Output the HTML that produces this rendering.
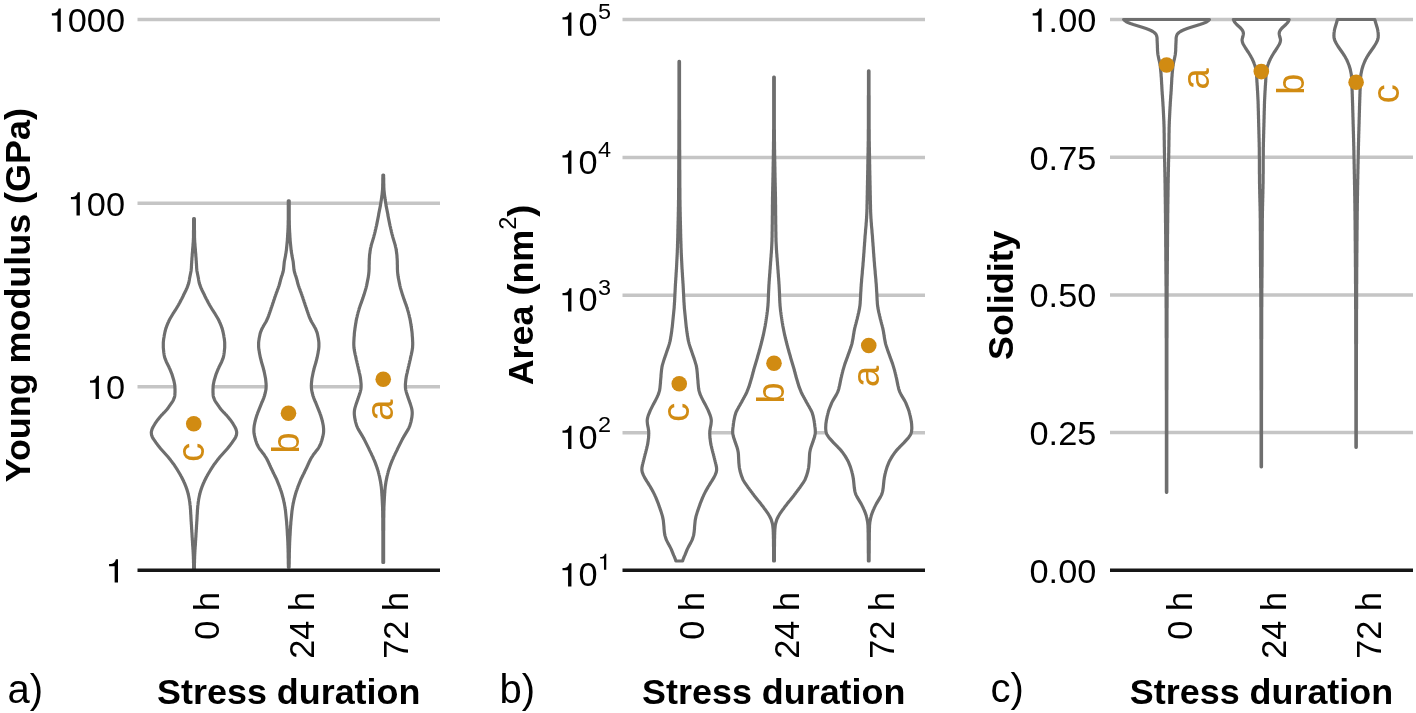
<!DOCTYPE html>
<html lang="en">
<head>
<meta charset="utf-8">
<title>Violin plots: Young modulus, Area, Solidity vs stress duration</title>
<style>
html,body{margin:0;padding:0;background:#fff;}
body{width:1416px;height:713px;overflow:hidden;}
svg{display:block;transform:translateZ(0);will-change:transform;}
svg text{font-family:"Liberation Sans", sans-serif;}
</style>
</head>
<body>
<svg width="1416" height="713" viewBox="0 0 1416 713" role="img" aria-label="Violin plots of Young modulus, area and solidity versus stress duration">
<rect width="1416" height="713" fill="#ffffff"/>
<line x1="137.5" y1="19.5" x2="440" y2="19.5" stroke="#c5c5c5" stroke-width="3.3"/>
<line x1="137.5" y1="203.25" x2="440" y2="203.25" stroke="#c5c5c5" stroke-width="3.3"/>
<line x1="137.5" y1="386.75" x2="440" y2="386.75" stroke="#c5c5c5" stroke-width="3.3"/>
<path d="M194.4,218.7 L194.4,219.7 L194.4,220.7 L194.4,221.7 L194.4,222.7 L194.4,223.7 L194.4,224.7 L194.4,225.7 L194.4,226.7 L194.4,227.7 L194.4,228.7 L194.4,229.7 L194.5,230.7 L194.5,231.7 L194.5,232.7 L194.5,233.7 L194.5,234.7 L194.5,235.7 L194.5,236.7 L194.5,237.7 L194.6,238.7 L194.6,239.7 L194.7,240.7 L194.7,241.7 L194.8,242.7 L194.9,243.7 L195.0,244.7 L195.0,245.7 L195.1,246.7 L195.2,247.7 L195.3,248.7 L195.4,249.7 L195.4,250.7 L195.5,251.7 L195.6,252.7 L195.7,253.7 L195.8,254.7 L195.8,255.7 L195.9,256.7 L196.0,257.7 L196.1,258.7 L196.1,259.7 L196.2,260.7 L196.3,261.7 L196.3,262.7 L196.4,263.7 L196.5,264.7 L196.5,265.7 L196.6,266.7 L196.6,267.7 L196.7,268.7 L196.8,269.7 L196.9,270.7 L197.1,271.7 L197.3,272.7 L197.5,273.7 L197.7,274.7 L197.9,275.7 L198.1,276.7 L198.3,277.7 L198.5,278.7 L198.6,279.7 L198.8,280.7 L199.0,281.7 L199.2,282.7 L199.5,283.7 L199.8,284.7 L200.2,285.7 L200.5,286.7 L200.9,287.7 L201.4,288.7 L201.8,289.7 L202.3,290.7 L202.8,291.7 L203.3,292.7 L203.8,293.7 L204.3,294.7 L204.7,295.7 L205.2,296.7 L205.7,297.7 L206.2,298.7 L206.8,299.7 L207.3,300.7 L207.8,301.7 L208.3,302.7 L208.9,303.7 L209.4,304.7 L210.0,305.7 L210.6,306.7 L211.2,307.7 L211.8,308.7 L212.4,309.7 L213.0,310.7 L213.7,311.7 L214.3,312.7 L215.0,313.7 L215.6,314.7 L216.2,315.7 L216.8,316.7 L217.4,317.7 L218.0,318.7 L218.5,319.7 L219.0,320.7 L219.4,321.7 L219.9,322.7 L220.3,323.7 L220.7,324.7 L221.1,325.7 L221.5,326.7 L221.8,327.7 L222.2,328.7 L222.5,329.7 L222.7,330.7 L223.0,331.7 L223.2,332.7 L223.4,333.7 L223.6,334.7 L223.8,335.7 L223.9,336.7 L224.1,337.7 L224.3,338.7 L224.4,339.7 L224.5,340.7 L224.6,341.7 L224.7,342.7 L224.7,343.7 L224.7,344.7 L224.7,345.7 L224.7,346.7 L224.7,347.7 L224.6,348.7 L224.5,349.7 L224.4,350.7 L224.3,351.7 L224.2,352.7 L224.0,353.7 L223.9,354.7 L223.7,355.7 L223.5,356.7 L223.2,357.7 L222.9,358.7 L222.5,359.7 L222.1,360.7 L221.7,361.7 L221.2,362.7 L220.7,363.7 L220.2,364.7 L219.7,365.7 L219.2,366.7 L218.8,367.7 L218.3,368.7 L217.9,369.7 L217.5,370.7 L217.1,371.7 L216.7,372.7 L216.3,373.7 L215.9,374.7 L215.6,375.7 L215.3,376.7 L215.0,377.7 L214.7,378.7 L214.4,379.7 L214.1,380.7 L213.9,381.7 L213.7,382.7 L213.5,383.7 L213.3,384.7 L213.2,385.7 L213.1,386.7 L213.1,387.7 L213.0,388.7 L213.0,389.7 L213.0,390.7 L213.0,391.7 L213.0,392.7 L213.1,393.7 L213.1,394.7 L213.2,395.7 L213.4,396.7 L213.7,397.7 L214.1,398.7 L214.5,399.7 L215.0,400.7 L215.6,401.7 L216.2,402.7 L216.9,403.7 L217.6,404.7 L218.3,405.7 L219.0,406.7 L219.7,407.7 L220.5,408.7 L221.3,409.7 L222.2,410.7 L223.1,411.7 L224.0,412.7 L225.0,413.7 L225.9,414.7 L226.9,415.7 L227.8,416.7 L228.6,417.7 L229.4,418.7 L230.2,419.7 L230.9,420.7 L231.6,421.7 L232.3,422.7 L233.0,423.7 L233.6,424.7 L234.2,425.7 L234.8,426.7 L235.3,427.7 L235.8,428.7 L236.1,429.7 L236.4,430.7 L236.6,431.7 L236.7,432.7 L236.6,433.7 L236.5,434.7 L236.2,435.7 L235.8,436.7 L235.3,437.7 L234.8,438.7 L234.1,439.7 L233.4,440.7 L232.7,441.7 L232.0,442.7 L231.2,443.7 L230.5,444.7 L229.7,445.7 L228.9,446.7 L228.1,447.7 L227.3,448.7 L226.4,449.7 L225.5,450.7 L224.6,451.7 L223.7,452.7 L222.8,453.7 L221.9,454.7 L221.0,455.7 L220.1,456.7 L219.3,457.7 L218.5,458.7 L217.7,459.7 L217.0,460.7 L216.2,461.7 L215.5,462.7 L214.7,463.7 L214.0,464.7 L213.3,465.7 L212.7,466.7 L212.0,467.7 L211.4,468.7 L210.7,469.7 L210.1,470.7 L209.5,471.7 L208.9,472.7 L208.3,473.7 L207.7,474.7 L207.2,475.7 L206.6,476.7 L206.1,477.7 L205.6,478.7 L205.1,479.7 L204.6,480.7 L204.2,481.7 L203.7,482.7 L203.3,483.7 L202.9,484.7 L202.5,485.7 L202.1,486.7 L201.7,487.7 L201.4,488.7 L201.0,489.7 L200.7,490.7 L200.4,491.7 L200.1,492.7 L199.9,493.7 L199.6,494.7 L199.4,495.7 L199.2,496.7 L199.0,497.7 L198.8,498.7 L198.6,499.7 L198.5,500.7 L198.3,501.7 L198.2,502.7 L198.1,503.7 L198.0,504.7 L197.8,505.7 L197.7,506.7 L197.7,507.7 L197.6,508.7 L197.5,509.7 L197.4,510.7 L197.4,511.7 L197.3,512.7 L197.3,513.7 L197.2,514.7 L197.1,515.7 L197.1,516.7 L197.0,517.7 L197.0,518.7 L196.9,519.7 L196.9,520.7 L196.8,521.7 L196.7,522.7 L196.7,523.7 L196.6,524.7 L196.5,525.7 L196.5,526.7 L196.4,527.7 L196.4,528.7 L196.3,529.7 L196.2,530.7 L196.2,531.7 L196.1,532.7 L196.0,533.7 L196.0,534.7 L195.9,535.7 L195.9,536.7 L195.8,537.7 L195.7,538.7 L195.7,539.7 L195.6,540.7 L195.5,541.7 L195.5,542.7 L195.4,543.7 L195.4,544.7 L195.3,545.7 L195.2,546.7 L195.1,547.7 L195.1,548.7 L195.0,549.7 L194.9,550.7 L194.9,551.7 L194.8,552.7 L194.8,553.7 L194.7,554.7 L194.7,555.7 L194.6,556.7 L194.6,557.7 L194.6,558.7 L194.5,559.7 L194.5,560.7 L194.5,561.7 L194.5,562.7 L194.4,563.7 L194.4,564.7 L194.4,565.7 L194.4,566.7 L194.4,567.7 L194.4,568.7 L194.4,568.8 L193.6,568.8 L193.6,568.7 L193.6,567.7 L193.6,566.7 L193.6,565.7 L193.6,564.7 L193.6,563.7 L193.5,562.7 L193.5,561.7 L193.5,560.7 L193.5,559.7 L193.4,558.7 L193.4,557.7 L193.4,556.7 L193.3,555.7 L193.3,554.7 L193.2,553.7 L193.2,552.7 L193.1,551.7 L193.1,550.7 L193.0,549.7 L192.9,548.7 L192.9,547.7 L192.8,546.7 L192.7,545.7 L192.6,544.7 L192.6,543.7 L192.5,542.7 L192.5,541.7 L192.4,540.7 L192.3,539.7 L192.3,538.7 L192.2,537.7 L192.1,536.7 L192.1,535.7 L192.0,534.7 L192.0,533.7 L191.9,532.7 L191.8,531.7 L191.8,530.7 L191.7,529.7 L191.6,528.7 L191.6,527.7 L191.5,526.7 L191.5,525.7 L191.4,524.7 L191.3,523.7 L191.3,522.7 L191.2,521.7 L191.1,520.7 L191.1,519.7 L191.0,518.7 L191.0,517.7 L190.9,516.7 L190.9,515.7 L190.8,514.7 L190.7,513.7 L190.7,512.7 L190.6,511.7 L190.6,510.7 L190.5,509.7 L190.4,508.7 L190.3,507.7 L190.3,506.7 L190.2,505.7 L190.0,504.7 L189.9,503.7 L189.8,502.7 L189.7,501.7 L189.5,500.7 L189.4,499.7 L189.2,498.7 L189.0,497.7 L188.8,496.7 L188.6,495.7 L188.4,494.7 L188.1,493.7 L187.9,492.7 L187.6,491.7 L187.3,490.7 L187.0,489.7 L186.6,488.7 L186.3,487.7 L185.9,486.7 L185.5,485.7 L185.1,484.7 L184.7,483.7 L184.3,482.7 L183.8,481.7 L183.4,480.7 L182.9,479.7 L182.4,478.7 L181.9,477.7 L181.4,476.7 L180.8,475.7 L180.3,474.7 L179.7,473.7 L179.1,472.7 L178.5,471.7 L177.9,470.7 L177.3,469.7 L176.6,468.7 L176.0,467.7 L175.3,466.7 L174.7,465.7 L174.0,464.7 L173.3,463.7 L172.5,462.7 L171.8,461.7 L171.0,460.7 L170.3,459.7 L169.5,458.7 L168.7,457.7 L167.9,456.7 L167.0,455.7 L166.1,454.7 L165.2,453.7 L164.3,452.7 L163.4,451.7 L162.5,450.7 L161.6,449.7 L160.7,448.7 L159.9,447.7 L159.1,446.7 L158.3,445.7 L157.5,444.7 L156.8,443.7 L156.0,442.7 L155.3,441.7 L154.6,440.7 L153.9,439.7 L153.2,438.7 L152.7,437.7 L152.2,436.7 L151.8,435.7 L151.5,434.7 L151.4,433.7 L151.3,432.7 L151.4,431.7 L151.6,430.7 L151.9,429.7 L152.2,428.7 L152.7,427.7 L153.2,426.7 L153.8,425.7 L154.4,424.7 L155.0,423.7 L155.7,422.7 L156.4,421.7 L157.1,420.7 L157.8,419.7 L158.6,418.7 L159.4,417.7 L160.2,416.7 L161.1,415.7 L162.1,414.7 L163.0,413.7 L164.0,412.7 L164.9,411.7 L165.8,410.7 L166.7,409.7 L167.5,408.7 L168.3,407.7 L169.0,406.7 L169.7,405.7 L170.4,404.7 L171.1,403.7 L171.8,402.7 L172.4,401.7 L173.0,400.7 L173.5,399.7 L173.9,398.7 L174.3,397.7 L174.6,396.7 L174.8,395.7 L174.9,394.7 L174.9,393.7 L175.0,392.7 L175.0,391.7 L175.0,390.7 L175.0,389.7 L175.0,388.7 L174.9,387.7 L174.9,386.7 L174.8,385.7 L174.7,384.7 L174.5,383.7 L174.3,382.7 L174.1,381.7 L173.9,380.7 L173.6,379.7 L173.3,378.7 L173.0,377.7 L172.7,376.7 L172.4,375.7 L172.1,374.7 L171.7,373.7 L171.3,372.7 L170.9,371.7 L170.5,370.7 L170.1,369.7 L169.7,368.7 L169.2,367.7 L168.8,366.7 L168.3,365.7 L167.8,364.7 L167.3,363.7 L166.8,362.7 L166.3,361.7 L165.9,360.7 L165.5,359.7 L165.1,358.7 L164.8,357.7 L164.5,356.7 L164.3,355.7 L164.1,354.7 L164.0,353.7 L163.8,352.7 L163.7,351.7 L163.6,350.7 L163.5,349.7 L163.4,348.7 L163.3,347.7 L163.3,346.7 L163.3,345.7 L163.3,344.7 L163.3,343.7 L163.3,342.7 L163.4,341.7 L163.5,340.7 L163.6,339.7 L163.7,338.7 L163.9,337.7 L164.1,336.7 L164.2,335.7 L164.4,334.7 L164.6,333.7 L164.8,332.7 L165.0,331.7 L165.3,330.7 L165.5,329.7 L165.8,328.7 L166.2,327.7 L166.5,326.7 L166.9,325.7 L167.3,324.7 L167.7,323.7 L168.1,322.7 L168.6,321.7 L169.0,320.7 L169.5,319.7 L170.0,318.7 L170.6,317.7 L171.2,316.7 L171.8,315.7 L172.4,314.7 L173.0,313.7 L173.7,312.7 L174.3,311.7 L175.0,310.7 L175.6,309.7 L176.2,308.7 L176.8,307.7 L177.4,306.7 L178.0,305.7 L178.6,304.7 L179.1,303.7 L179.7,302.7 L180.2,301.7 L180.7,300.7 L181.2,299.7 L181.8,298.7 L182.3,297.7 L182.8,296.7 L183.3,295.7 L183.7,294.7 L184.2,293.7 L184.7,292.7 L185.2,291.7 L185.7,290.7 L186.2,289.7 L186.6,288.7 L187.1,287.7 L187.5,286.7 L187.8,285.7 L188.2,284.7 L188.5,283.7 L188.8,282.7 L189.0,281.7 L189.2,280.7 L189.4,279.7 L189.5,278.7 L189.7,277.7 L189.9,276.7 L190.1,275.7 L190.3,274.7 L190.5,273.7 L190.7,272.7 L190.9,271.7 L191.1,270.7 L191.2,269.7 L191.3,268.7 L191.4,267.7 L191.4,266.7 L191.5,265.7 L191.5,264.7 L191.6,263.7 L191.7,262.7 L191.7,261.7 L191.8,260.7 L191.9,259.7 L191.9,258.7 L192.0,257.7 L192.1,256.7 L192.2,255.7 L192.2,254.7 L192.3,253.7 L192.4,252.7 L192.5,251.7 L192.6,250.7 L192.6,249.7 L192.7,248.7 L192.8,247.7 L192.9,246.7 L193.0,245.7 L193.0,244.7 L193.1,243.7 L193.2,242.7 L193.3,241.7 L193.3,240.7 L193.4,239.7 L193.4,238.7 L193.5,237.7 L193.5,236.7 L193.5,235.7 L193.5,234.7 L193.5,233.7 L193.5,232.7 L193.5,231.7 L193.5,230.7 L193.6,229.7 L193.6,228.7 L193.6,227.7 L193.6,226.7 L193.6,225.7 L193.6,224.7 L193.6,223.7 L193.6,222.7 L193.6,221.7 L193.6,220.7 L193.6,219.7 L193.6,218.7 Z" fill="#ffffff" stroke="#6e6e6e" stroke-width="3.2" stroke-linejoin="round"/>
<path d="M289.2,200.8 L289.2,201.8 L289.2,202.8 L289.2,203.8 L289.2,204.8 L289.2,205.8 L289.2,206.8 L289.2,207.8 L289.2,208.8 L289.2,209.8 L289.2,210.8 L289.2,211.8 L289.2,212.8 L289.2,213.8 L289.2,214.8 L289.2,215.8 L289.2,216.8 L289.2,217.8 L289.2,218.8 L289.2,219.8 L289.3,220.8 L289.3,221.8 L289.3,222.8 L289.3,223.8 L289.3,224.8 L289.4,225.8 L289.4,226.8 L289.4,227.8 L289.5,228.8 L289.5,229.8 L289.6,230.8 L289.6,231.8 L289.7,232.8 L289.8,233.8 L289.8,234.8 L289.9,235.8 L289.9,236.8 L290.0,237.8 L290.1,238.8 L290.1,239.8 L290.2,240.8 L290.3,241.8 L290.4,242.8 L290.5,243.8 L290.6,244.8 L290.7,245.8 L290.8,246.8 L290.9,247.8 L291.0,248.8 L291.1,249.8 L291.2,250.8 L291.4,251.8 L291.5,252.8 L291.7,253.8 L291.9,254.8 L292.0,255.8 L292.2,256.8 L292.4,257.8 L292.6,258.8 L292.8,259.8 L293.0,260.8 L293.2,261.8 L293.3,262.8 L293.4,263.8 L293.5,264.8 L293.6,265.8 L293.7,266.8 L293.8,267.8 L293.9,268.8 L294.0,269.8 L294.2,270.8 L294.4,271.8 L294.7,272.8 L295.0,273.8 L295.3,274.8 L295.7,275.8 L296.0,276.8 L296.3,277.8 L296.6,278.8 L296.9,279.8 L297.1,280.8 L297.4,281.8 L297.6,282.8 L297.9,283.8 L298.2,284.8 L298.5,285.8 L298.9,286.8 L299.2,287.8 L299.6,288.8 L300.0,289.8 L300.3,290.8 L300.7,291.8 L301.1,292.8 L301.4,293.8 L301.8,294.8 L302.1,295.8 L302.5,296.8 L302.8,297.8 L303.1,298.8 L303.5,299.8 L303.8,300.8 L304.1,301.8 L304.5,302.8 L304.8,303.8 L305.1,304.8 L305.5,305.8 L305.8,306.8 L306.2,307.8 L306.5,308.8 L306.8,309.8 L307.2,310.8 L307.5,311.8 L307.9,312.8 L308.2,313.8 L308.6,314.8 L308.9,315.8 L309.3,316.8 L309.7,317.8 L310.1,318.8 L310.6,319.8 L311.0,320.8 L311.5,321.8 L312.1,322.8 L312.7,323.8 L313.3,324.8 L313.9,325.8 L314.4,326.8 L315.0,327.8 L315.5,328.8 L316.0,329.8 L316.4,330.8 L316.8,331.8 L317.1,332.8 L317.4,333.8 L317.6,334.8 L317.8,335.8 L318.0,336.8 L318.2,337.8 L318.4,338.8 L318.5,339.8 L318.7,340.8 L318.8,341.8 L318.9,342.8 L318.9,343.8 L318.9,344.8 L318.9,345.8 L318.9,346.8 L318.8,347.8 L318.7,348.8 L318.6,349.8 L318.4,350.8 L318.2,351.8 L318.1,352.8 L317.9,353.8 L317.7,354.8 L317.5,355.8 L317.3,356.8 L317.1,357.8 L316.8,358.8 L316.6,359.8 L316.3,360.8 L316.1,361.8 L315.8,362.8 L315.5,363.8 L315.2,364.8 L314.9,365.8 L314.6,366.8 L314.3,367.8 L314.1,368.8 L313.8,369.8 L313.6,370.8 L313.3,371.8 L313.1,372.8 L312.9,373.8 L312.7,374.8 L312.5,375.8 L312.3,376.8 L312.1,377.8 L311.9,378.8 L311.8,379.8 L311.7,380.8 L311.6,381.8 L311.5,382.8 L311.4,383.8 L311.4,384.8 L311.3,385.8 L311.4,386.8 L311.4,387.8 L311.5,388.8 L311.6,389.8 L311.8,390.8 L312.0,391.8 L312.2,392.8 L312.5,393.8 L312.7,394.8 L313.0,395.8 L313.4,396.8 L313.7,397.8 L314.1,398.8 L314.5,399.8 L314.9,400.8 L315.3,401.8 L315.8,402.8 L316.2,403.8 L316.6,404.8 L317.0,405.8 L317.4,406.8 L317.8,407.8 L318.2,408.8 L318.6,409.8 L319.0,410.8 L319.4,411.8 L319.8,412.8 L320.1,413.8 L320.5,414.8 L320.8,415.8 L321.1,416.8 L321.4,417.8 L321.7,418.8 L322.0,419.8 L322.2,420.8 L322.5,421.8 L322.7,422.8 L322.9,423.8 L323.1,424.8 L323.3,425.8 L323.4,426.8 L323.5,427.8 L323.6,428.8 L323.6,429.8 L323.6,430.8 L323.6,431.8 L323.5,432.8 L323.4,433.8 L323.2,434.8 L323.0,435.8 L322.8,436.8 L322.5,437.8 L322.3,438.8 L322.0,439.8 L321.7,440.8 L321.3,441.8 L321.0,442.8 L320.6,443.8 L320.2,444.8 L319.7,445.8 L319.2,446.8 L318.6,447.8 L317.9,448.8 L317.2,449.8 L316.4,450.8 L315.6,451.8 L314.9,452.8 L314.1,453.8 L313.3,454.8 L312.7,455.8 L312.0,456.8 L311.4,457.8 L310.8,458.8 L310.3,459.8 L309.8,460.8 L309.3,461.8 L308.8,462.8 L308.4,463.8 L307.9,464.8 L307.5,465.8 L307.0,466.8 L306.6,467.8 L306.1,468.8 L305.6,469.8 L305.1,470.8 L304.6,471.8 L304.2,472.8 L303.7,473.8 L303.1,474.8 L302.7,475.8 L302.2,476.8 L301.7,477.8 L301.2,478.8 L300.7,479.8 L300.3,480.8 L299.9,481.8 L299.5,482.8 L299.1,483.8 L298.7,484.8 L298.3,485.8 L297.9,486.8 L297.6,487.8 L297.2,488.8 L296.9,489.8 L296.5,490.8 L296.2,491.8 L295.9,492.8 L295.6,493.8 L295.3,494.8 L295.1,495.8 L294.8,496.8 L294.5,497.8 L294.3,498.8 L294.0,499.8 L293.8,500.8 L293.6,501.8 L293.4,502.8 L293.1,503.8 L293.0,504.8 L292.8,505.8 L292.6,506.8 L292.5,507.8 L292.3,508.8 L292.2,509.8 L292.0,510.8 L291.9,511.8 L291.8,512.8 L291.7,513.8 L291.6,514.8 L291.5,515.8 L291.4,516.8 L291.3,517.8 L291.2,518.8 L291.1,519.8 L291.0,520.8 L290.9,521.8 L290.8,522.8 L290.8,523.8 L290.7,524.8 L290.6,525.8 L290.5,526.8 L290.5,527.8 L290.4,528.8 L290.3,529.8 L290.3,530.8 L290.2,531.8 L290.2,532.8 L290.1,533.8 L290.1,534.8 L290.0,535.8 L289.9,536.8 L289.9,537.8 L289.8,538.8 L289.8,539.8 L289.7,540.8 L289.7,541.8 L289.6,542.8 L289.6,543.8 L289.6,544.8 L289.5,545.8 L289.5,546.8 L289.5,547.8 L289.4,548.8 L289.4,549.8 L289.4,550.8 L289.4,551.8 L289.3,552.8 L289.3,553.8 L289.3,554.8 L289.3,555.8 L289.3,556.8 L289.3,557.8 L289.2,558.8 L289.2,559.8 L289.2,560.8 L289.2,561.8 L289.2,562.8 L289.2,563.8 L289.1,564.8 L289.1,565.8 L289.1,566.8 L289.1,567.2 L288.4,567.2 L288.4,566.8 L288.4,565.8 L288.4,564.8 L288.3,563.8 L288.3,562.8 L288.3,561.8 L288.3,560.8 L288.3,559.8 L288.3,558.8 L288.2,557.8 L288.2,556.8 L288.2,555.8 L288.2,554.8 L288.2,553.8 L288.2,552.8 L288.1,551.8 L288.1,550.8 L288.1,549.8 L288.1,548.8 L288.0,547.8 L288.0,546.8 L288.0,545.8 L287.9,544.8 L287.9,543.8 L287.9,542.8 L287.8,541.8 L287.8,540.8 L287.7,539.8 L287.7,538.8 L287.6,537.8 L287.6,536.8 L287.5,535.8 L287.4,534.8 L287.4,533.8 L287.3,532.8 L287.3,531.8 L287.2,530.8 L287.2,529.8 L287.1,528.8 L287.0,527.8 L287.0,526.8 L286.9,525.8 L286.8,524.8 L286.7,523.8 L286.7,522.8 L286.6,521.8 L286.5,520.8 L286.4,519.8 L286.3,518.8 L286.2,517.8 L286.1,516.8 L286.0,515.8 L285.9,514.8 L285.8,513.8 L285.7,512.8 L285.6,511.8 L285.5,510.8 L285.3,509.8 L285.2,508.8 L285.0,507.8 L284.9,506.8 L284.7,505.8 L284.5,504.8 L284.4,503.8 L284.1,502.8 L283.9,501.8 L283.7,500.8 L283.5,499.8 L283.2,498.8 L283.0,497.8 L282.7,496.8 L282.4,495.8 L282.2,494.8 L281.9,493.8 L281.6,492.8 L281.3,491.8 L281.0,490.8 L280.6,489.8 L280.3,488.8 L279.9,487.8 L279.6,486.8 L279.2,485.8 L278.8,484.8 L278.4,483.8 L278.0,482.8 L277.6,481.8 L277.2,480.8 L276.8,479.8 L276.3,478.8 L275.8,477.8 L275.3,476.8 L274.8,475.8 L274.4,474.8 L273.8,473.8 L273.3,472.8 L272.9,471.8 L272.4,470.8 L271.9,469.8 L271.4,468.8 L270.9,467.8 L270.5,466.8 L270.0,465.8 L269.6,464.8 L269.1,463.8 L268.7,462.8 L268.2,461.8 L267.7,460.8 L267.2,459.8 L266.7,458.8 L266.1,457.8 L265.5,456.8 L264.8,455.8 L264.2,454.8 L263.4,453.8 L262.6,452.8 L261.9,451.8 L261.1,450.8 L260.3,449.8 L259.6,448.8 L258.9,447.8 L258.3,446.8 L257.8,445.8 L257.3,444.8 L256.9,443.8 L256.5,442.8 L256.2,441.8 L255.8,440.8 L255.5,439.8 L255.2,438.8 L255.0,437.8 L254.7,436.8 L254.5,435.8 L254.3,434.8 L254.1,433.8 L254.0,432.8 L253.9,431.8 L253.9,430.8 L253.9,429.8 L253.9,428.8 L254.0,427.8 L254.1,426.8 L254.2,425.8 L254.4,424.8 L254.6,423.8 L254.8,422.8 L255.0,421.8 L255.3,420.8 L255.5,419.8 L255.8,418.8 L256.1,417.8 L256.4,416.8 L256.7,415.8 L257.0,414.8 L257.4,413.8 L257.7,412.8 L258.1,411.8 L258.5,410.8 L258.9,409.8 L259.3,408.8 L259.7,407.8 L260.1,406.8 L260.5,405.8 L260.9,404.8 L261.3,403.8 L261.7,402.8 L262.2,401.8 L262.6,400.8 L263.0,399.8 L263.4,398.8 L263.8,397.8 L264.1,396.8 L264.5,395.8 L264.8,394.8 L265.0,393.8 L265.3,392.8 L265.5,391.8 L265.7,390.8 L265.9,389.8 L266.0,388.8 L266.1,387.8 L266.1,386.8 L266.2,385.8 L266.1,384.8 L266.1,383.8 L266.0,382.8 L265.9,381.8 L265.8,380.8 L265.7,379.8 L265.6,378.8 L265.4,377.8 L265.2,376.8 L265.0,375.8 L264.8,374.8 L264.6,373.8 L264.4,372.8 L264.2,371.8 L263.9,370.8 L263.7,369.8 L263.4,368.8 L263.2,367.8 L262.9,366.8 L262.6,365.8 L262.3,364.8 L262.0,363.8 L261.7,362.8 L261.4,361.8 L261.2,360.8 L260.9,359.8 L260.7,358.8 L260.4,357.8 L260.2,356.8 L260.0,355.8 L259.8,354.8 L259.6,353.8 L259.4,352.8 L259.3,351.8 L259.1,350.8 L258.9,349.8 L258.8,348.8 L258.7,347.8 L258.6,346.8 L258.6,345.8 L258.6,344.8 L258.6,343.8 L258.6,342.8 L258.7,341.8 L258.8,340.8 L259.0,339.8 L259.1,338.8 L259.3,337.8 L259.5,336.8 L259.7,335.8 L259.9,334.8 L260.1,333.8 L260.4,332.8 L260.7,331.8 L261.1,330.8 L261.5,329.8 L262.0,328.8 L262.5,327.8 L263.1,326.8 L263.6,325.8 L264.2,324.8 L264.8,323.8 L265.4,322.8 L266.0,321.8 L266.5,320.8 L266.9,319.8 L267.4,318.8 L267.8,317.8 L268.2,316.8 L268.6,315.8 L268.9,314.8 L269.3,313.8 L269.6,312.8 L270.0,311.8 L270.3,310.8 L270.7,309.8 L271.0,308.8 L271.3,307.8 L271.7,306.8 L272.0,305.8 L272.4,304.8 L272.7,303.8 L273.0,302.8 L273.4,301.8 L273.7,300.8 L274.0,299.8 L274.4,298.8 L274.7,297.8 L275.0,296.8 L275.4,295.8 L275.7,294.8 L276.1,293.8 L276.4,292.8 L276.8,291.8 L277.2,290.8 L277.5,289.8 L277.9,288.8 L278.3,287.8 L278.6,286.8 L279.0,285.8 L279.3,284.8 L279.6,283.8 L279.9,282.8 L280.1,281.8 L280.4,280.8 L280.6,279.8 L280.9,278.8 L281.2,277.8 L281.5,276.8 L281.8,275.8 L282.2,274.8 L282.5,273.8 L282.8,272.8 L283.1,271.8 L283.3,270.8 L283.5,269.8 L283.6,268.8 L283.7,267.8 L283.8,266.8 L283.9,265.8 L284.0,264.8 L284.1,263.8 L284.2,262.8 L284.3,261.8 L284.5,260.8 L284.7,259.8 L284.9,258.8 L285.1,257.8 L285.3,256.8 L285.5,255.8 L285.6,254.8 L285.8,253.8 L286.0,252.8 L286.1,251.8 L286.3,250.8 L286.4,249.8 L286.5,248.8 L286.6,247.8 L286.7,246.8 L286.8,245.8 L286.9,244.8 L287.0,243.8 L287.1,242.8 L287.2,241.8 L287.3,240.8 L287.4,239.8 L287.4,238.8 L287.5,237.8 L287.6,236.8 L287.6,235.8 L287.7,234.8 L287.7,233.8 L287.8,232.8 L287.9,231.8 L287.9,230.8 L288.0,229.8 L288.0,228.8 L288.1,227.8 L288.1,226.8 L288.1,225.8 L288.2,224.8 L288.2,223.8 L288.2,222.8 L288.2,221.8 L288.2,220.8 L288.3,219.8 L288.3,218.8 L288.3,217.8 L288.3,216.8 L288.3,215.8 L288.3,214.8 L288.3,213.8 L288.3,212.8 L288.3,211.8 L288.3,210.8 L288.3,209.8 L288.3,208.8 L288.3,207.8 L288.3,206.8 L288.3,205.8 L288.3,204.8 L288.3,203.8 L288.3,202.8 L288.3,201.8 L288.3,200.8 Z" fill="#ffffff" stroke="#6e6e6e" stroke-width="3.2" stroke-linejoin="round"/>
<path d="M383.6,175.1 L383.6,176.1 L383.6,177.1 L383.7,178.1 L383.7,179.1 L383.7,180.1 L383.7,181.1 L383.7,182.1 L383.7,183.1 L383.8,184.1 L383.8,185.1 L383.8,186.1 L383.8,187.1 L383.9,188.1 L383.9,189.1 L384.0,190.1 L384.1,191.1 L384.2,192.1 L384.3,193.1 L384.4,194.1 L384.5,195.1 L384.7,196.1 L384.8,197.1 L384.9,198.1 L385.1,199.1 L385.2,200.1 L385.4,201.1 L385.5,202.1 L385.7,203.1 L385.9,204.1 L386.0,205.1 L386.2,206.1 L386.4,207.1 L386.6,208.1 L386.8,209.1 L387.0,210.1 L387.2,211.1 L387.4,212.1 L387.6,213.1 L387.8,214.1 L387.9,215.1 L388.1,216.1 L388.3,217.1 L388.5,218.1 L388.7,219.1 L388.9,220.1 L389.1,221.1 L389.3,222.1 L389.5,223.1 L389.7,224.1 L389.9,225.1 L390.1,226.1 L390.4,227.1 L390.6,228.1 L390.8,229.1 L391.1,230.1 L391.3,231.1 L391.5,232.1 L391.8,233.1 L392.0,234.1 L392.3,235.1 L392.6,236.1 L392.8,237.1 L393.1,238.1 L393.4,239.1 L393.7,240.1 L394.0,241.1 L394.3,242.1 L394.6,243.1 L394.9,244.1 L395.2,245.1 L395.4,246.1 L395.6,247.1 L395.9,248.1 L396.1,249.1 L396.2,250.1 L396.4,251.1 L396.5,252.1 L396.6,253.1 L396.8,254.1 L396.9,255.1 L397.0,256.1 L397.0,257.1 L397.1,258.1 L397.2,259.1 L397.2,260.1 L397.3,261.1 L397.3,262.1 L397.3,263.1 L397.3,264.1 L397.4,265.1 L397.4,266.1 L397.4,267.1 L397.4,268.1 L397.4,269.1 L397.5,270.1 L397.5,271.1 L397.6,272.1 L397.7,273.1 L397.8,274.1 L397.9,275.1 L398.1,276.1 L398.2,277.1 L398.4,278.1 L398.6,279.1 L398.8,280.1 L399.0,281.1 L399.2,282.1 L399.4,283.1 L399.6,284.1 L399.8,285.1 L400.0,286.1 L400.3,287.1 L400.5,288.1 L400.8,289.1 L401.1,290.1 L401.4,291.1 L401.7,292.1 L402.0,293.1 L402.3,294.1 L402.6,295.1 L403.0,296.1 L403.3,297.1 L403.6,298.1 L404.0,299.1 L404.3,300.1 L404.7,301.1 L405.0,302.1 L405.4,303.1 L405.8,304.1 L406.1,305.1 L406.5,306.1 L406.8,307.1 L407.1,308.1 L407.5,309.1 L407.7,310.1 L408.0,311.1 L408.3,312.1 L408.6,313.1 L408.8,314.1 L409.1,315.1 L409.3,316.1 L409.5,317.1 L409.8,318.1 L410.0,319.1 L410.2,320.1 L410.4,321.1 L410.5,322.1 L410.7,323.1 L410.9,324.1 L411.0,325.1 L411.2,326.1 L411.3,327.1 L411.5,328.1 L411.6,329.1 L411.7,330.1 L411.9,331.1 L412.0,332.1 L412.1,333.1 L412.2,334.1 L412.2,335.1 L412.3,336.1 L412.4,337.1 L412.5,338.1 L412.5,339.1 L412.6,340.1 L412.6,341.1 L412.7,342.1 L412.7,343.1 L412.7,344.1 L412.7,345.1 L412.6,346.1 L412.6,347.1 L412.5,348.1 L412.3,349.1 L412.2,350.1 L412.0,351.1 L411.8,352.1 L411.6,353.1 L411.4,354.1 L411.2,355.1 L410.9,356.1 L410.7,357.1 L410.5,358.1 L410.3,359.1 L410.1,360.1 L409.8,361.1 L409.6,362.1 L409.4,363.1 L409.1,364.1 L408.9,365.1 L408.7,366.1 L408.4,367.1 L408.2,368.1 L408.0,369.1 L407.7,370.1 L407.5,371.1 L407.3,372.1 L407.1,373.1 L406.8,374.1 L406.6,375.1 L406.4,376.1 L406.2,377.1 L406.1,378.1 L405.9,379.1 L405.8,380.1 L405.7,381.1 L405.6,382.1 L405.5,383.1 L405.4,384.1 L405.4,385.1 L405.4,386.1 L405.4,387.1 L405.5,388.1 L405.6,389.1 L405.8,390.1 L406.1,391.1 L406.3,392.1 L406.6,393.1 L406.9,394.1 L407.3,395.1 L407.6,396.1 L407.9,397.1 L408.3,398.1 L408.6,399.1 L409.0,400.1 L409.3,401.1 L409.7,402.1 L410.0,403.1 L410.4,404.1 L410.7,405.1 L411.0,406.1 L411.3,407.1 L411.6,408.1 L411.8,409.1 L412.0,410.1 L412.1,411.1 L412.2,412.1 L412.2,413.1 L412.2,414.1 L412.1,415.1 L412.0,416.1 L411.9,417.1 L411.7,418.1 L411.5,419.1 L411.3,420.1 L411.1,421.1 L410.9,422.1 L410.6,423.1 L410.3,424.1 L410.0,425.1 L409.7,426.1 L409.2,427.1 L408.8,428.1 L408.3,429.1 L407.7,430.1 L407.1,431.1 L406.5,432.1 L405.9,433.1 L405.3,434.1 L404.7,435.1 L404.1,436.1 L403.5,437.1 L403.0,438.1 L402.4,439.1 L401.9,440.1 L401.4,441.1 L400.9,442.1 L400.4,443.1 L399.9,444.1 L399.4,445.1 L398.9,446.1 L398.4,447.1 L397.9,448.1 L397.4,449.1 L397.0,450.1 L396.5,451.1 L396.0,452.1 L395.5,453.1 L395.0,454.1 L394.6,455.1 L394.1,456.1 L393.6,457.1 L393.2,458.1 L392.8,459.1 L392.3,460.1 L391.9,461.1 L391.5,462.1 L391.1,463.1 L390.8,464.1 L390.4,465.1 L390.0,466.1 L389.7,467.1 L389.4,468.1 L389.0,469.1 L388.7,470.1 L388.4,471.1 L388.1,472.1 L387.9,473.1 L387.6,474.1 L387.4,475.1 L387.1,476.1 L386.9,477.1 L386.7,478.1 L386.5,479.1 L386.3,480.1 L386.1,481.1 L385.9,482.1 L385.8,483.1 L385.6,484.1 L385.5,485.1 L385.3,486.1 L385.2,487.1 L385.1,488.1 L385.0,489.1 L384.9,490.1 L384.8,491.1 L384.8,492.1 L384.7,493.1 L384.6,494.1 L384.6,495.1 L384.5,496.1 L384.4,497.1 L384.4,498.1 L384.3,499.1 L384.3,500.1 L384.2,501.1 L384.2,502.1 L384.1,503.1 L384.1,504.1 L384.0,505.1 L384.0,506.1 L383.9,507.1 L383.9,508.1 L383.9,509.1 L383.9,510.1 L383.8,511.1 L383.8,512.1 L383.8,513.1 L383.8,514.1 L383.8,515.1 L383.8,516.1 L383.8,517.1 L383.7,518.1 L383.7,519.1 L383.7,520.1 L383.7,521.1 L383.7,522.1 L383.7,523.1 L383.7,524.1 L383.7,525.1 L383.7,526.1 L383.7,527.1 L383.7,528.1 L383.7,529.1 L383.7,530.1 L383.6,531.1 L383.6,532.1 L383.6,533.1 L383.6,534.1 L383.6,535.1 L383.6,536.1 L383.6,537.1 L383.6,538.1 L383.6,539.1 L383.6,540.1 L383.6,541.1 L383.6,542.1 L383.6,543.1 L383.6,544.1 L383.6,545.1 L383.6,546.1 L383.6,547.1 L383.6,548.1 L383.6,549.1 L383.6,550.1 L383.6,551.1 L383.6,552.1 L383.6,553.1 L383.6,554.1 L383.6,555.1 L383.6,556.1 L383.6,557.1 L383.6,558.1 L383.6,559.1 L383.6,560.1 L383.6,561.1 L383.6,562.1 L383.6,562.4 L382.9,562.4 L382.9,562.1 L382.9,561.1 L382.9,560.1 L382.9,559.1 L382.9,558.1 L382.9,557.1 L382.9,556.1 L382.9,555.1 L382.9,554.1 L382.9,553.1 L382.9,552.1 L382.9,551.1 L382.9,550.1 L382.9,549.1 L382.9,548.1 L382.9,547.1 L382.9,546.1 L382.9,545.1 L382.9,544.1 L382.9,543.1 L382.9,542.1 L382.9,541.1 L382.9,540.1 L382.9,539.1 L382.9,538.1 L382.9,537.1 L382.9,536.1 L382.9,535.1 L382.9,534.1 L382.9,533.1 L382.9,532.1 L382.9,531.1 L382.8,530.1 L382.8,529.1 L382.8,528.1 L382.8,527.1 L382.8,526.1 L382.8,525.1 L382.8,524.1 L382.8,523.1 L382.8,522.1 L382.8,521.1 L382.8,520.1 L382.8,519.1 L382.8,518.1 L382.7,517.1 L382.7,516.1 L382.7,515.1 L382.7,514.1 L382.7,513.1 L382.7,512.1 L382.7,511.1 L382.6,510.1 L382.6,509.1 L382.6,508.1 L382.6,507.1 L382.5,506.1 L382.5,505.1 L382.4,504.1 L382.4,503.1 L382.3,502.1 L382.3,501.1 L382.2,500.1 L382.2,499.1 L382.1,498.1 L382.1,497.1 L382.0,496.1 L381.9,495.1 L381.9,494.1 L381.8,493.1 L381.7,492.1 L381.7,491.1 L381.6,490.1 L381.5,489.1 L381.4,488.1 L381.3,487.1 L381.2,486.1 L381.0,485.1 L380.9,484.1 L380.7,483.1 L380.6,482.1 L380.4,481.1 L380.2,480.1 L380.0,479.1 L379.8,478.1 L379.6,477.1 L379.4,476.1 L379.1,475.1 L378.9,474.1 L378.6,473.1 L378.4,472.1 L378.1,471.1 L377.8,470.1 L377.5,469.1 L377.1,468.1 L376.8,467.1 L376.5,466.1 L376.1,465.1 L375.7,464.1 L375.4,463.1 L375.0,462.1 L374.6,461.1 L374.2,460.1 L373.7,459.1 L373.3,458.1 L372.9,457.1 L372.4,456.1 L371.9,455.1 L371.5,454.1 L371.0,453.1 L370.5,452.1 L370.0,451.1 L369.5,450.1 L369.1,449.1 L368.6,448.1 L368.1,447.1 L367.6,446.1 L367.1,445.1 L366.6,444.1 L366.1,443.1 L365.6,442.1 L365.1,441.1 L364.6,440.1 L364.1,439.1 L363.5,438.1 L363.0,437.1 L362.4,436.1 L361.8,435.1 L361.2,434.1 L360.6,433.1 L360.0,432.1 L359.4,431.1 L358.8,430.1 L358.2,429.1 L357.7,428.1 L357.3,427.1 L356.8,426.1 L356.5,425.1 L356.2,424.1 L355.9,423.1 L355.6,422.1 L355.4,421.1 L355.2,420.1 L355.0,419.1 L354.8,418.1 L354.6,417.1 L354.5,416.1 L354.4,415.1 L354.3,414.1 L354.3,413.1 L354.3,412.1 L354.4,411.1 L354.5,410.1 L354.7,409.1 L354.9,408.1 L355.2,407.1 L355.5,406.1 L355.8,405.1 L356.1,404.1 L356.5,403.1 L356.8,402.1 L357.2,401.1 L357.5,400.1 L357.9,399.1 L358.2,398.1 L358.6,397.1 L358.9,396.1 L359.2,395.1 L359.6,394.1 L359.9,393.1 L360.2,392.1 L360.4,391.1 L360.7,390.1 L360.9,389.1 L361.0,388.1 L361.1,387.1 L361.1,386.1 L361.1,385.1 L361.1,384.1 L361.0,383.1 L360.9,382.1 L360.8,381.1 L360.7,380.1 L360.6,379.1 L360.4,378.1 L360.3,377.1 L360.1,376.1 L359.9,375.1 L359.7,374.1 L359.4,373.1 L359.2,372.1 L359.0,371.1 L358.8,370.1 L358.5,369.1 L358.3,368.1 L358.1,367.1 L357.8,366.1 L357.6,365.1 L357.4,364.1 L357.1,363.1 L356.9,362.1 L356.7,361.1 L356.4,360.1 L356.2,359.1 L356.0,358.1 L355.8,357.1 L355.6,356.1 L355.3,355.1 L355.1,354.1 L354.9,353.1 L354.7,352.1 L354.5,351.1 L354.3,350.1 L354.2,349.1 L354.0,348.1 L353.9,347.1 L353.9,346.1 L353.8,345.1 L353.8,344.1 L353.8,343.1 L353.8,342.1 L353.9,341.1 L353.9,340.1 L354.0,339.1 L354.0,338.1 L354.1,337.1 L354.2,336.1 L354.3,335.1 L354.3,334.1 L354.4,333.1 L354.5,332.1 L354.6,331.1 L354.8,330.1 L354.9,329.1 L355.0,328.1 L355.2,327.1 L355.3,326.1 L355.5,325.1 L355.6,324.1 L355.8,323.1 L356.0,322.1 L356.1,321.1 L356.3,320.1 L356.5,319.1 L356.7,318.1 L357.0,317.1 L357.2,316.1 L357.4,315.1 L357.7,314.1 L357.9,313.1 L358.2,312.1 L358.5,311.1 L358.8,310.1 L359.0,309.1 L359.4,308.1 L359.7,307.1 L360.0,306.1 L360.4,305.1 L360.7,304.1 L361.1,303.1 L361.5,302.1 L361.8,301.1 L362.2,300.1 L362.5,299.1 L362.9,298.1 L363.2,297.1 L363.5,296.1 L363.9,295.1 L364.2,294.1 L364.5,293.1 L364.8,292.1 L365.1,291.1 L365.4,290.1 L365.7,289.1 L366.0,288.1 L366.2,287.1 L366.5,286.1 L366.7,285.1 L366.9,284.1 L367.1,283.1 L367.3,282.1 L367.5,281.1 L367.7,280.1 L367.9,279.1 L368.1,278.1 L368.3,277.1 L368.4,276.1 L368.6,275.1 L368.7,274.1 L368.8,273.1 L368.9,272.1 L369.0,271.1 L369.0,270.1 L369.1,269.1 L369.1,268.1 L369.1,267.1 L369.1,266.1 L369.1,265.1 L369.2,264.1 L369.2,263.1 L369.2,262.1 L369.2,261.1 L369.3,260.1 L369.3,259.1 L369.4,258.1 L369.5,257.1 L369.5,256.1 L369.6,255.1 L369.7,254.1 L369.9,253.1 L370.0,252.1 L370.1,251.1 L370.3,250.1 L370.4,249.1 L370.6,248.1 L370.9,247.1 L371.1,246.1 L371.3,245.1 L371.6,244.1 L371.9,243.1 L372.2,242.1 L372.5,241.1 L372.8,240.1 L373.1,239.1 L373.4,238.1 L373.7,237.1 L373.9,236.1 L374.2,235.1 L374.5,234.1 L374.7,233.1 L375.0,232.1 L375.2,231.1 L375.4,230.1 L375.7,229.1 L375.9,228.1 L376.1,227.1 L376.4,226.1 L376.6,225.1 L376.8,224.1 L377.0,223.1 L377.2,222.1 L377.4,221.1 L377.6,220.1 L377.8,219.1 L378.0,218.1 L378.2,217.1 L378.4,216.1 L378.6,215.1 L378.7,214.1 L378.9,213.1 L379.1,212.1 L379.3,211.1 L379.5,210.1 L379.7,209.1 L379.9,208.1 L380.1,207.1 L380.3,206.1 L380.5,205.1 L380.6,204.1 L380.8,203.1 L381.0,202.1 L381.1,201.1 L381.3,200.1 L381.4,199.1 L381.6,198.1 L381.7,197.1 L381.8,196.1 L382.0,195.1 L382.1,194.1 L382.2,193.1 L382.3,192.1 L382.4,191.1 L382.5,190.1 L382.6,189.1 L382.6,188.1 L382.7,187.1 L382.7,186.1 L382.7,185.1 L382.7,184.1 L382.8,183.1 L382.8,182.1 L382.8,181.1 L382.8,180.1 L382.8,179.1 L382.8,178.1 L382.9,177.1 L382.9,176.1 L382.9,175.1 Z" fill="#ffffff" stroke="#6e6e6e" stroke-width="3.2" stroke-linejoin="round"/>
<line x1="137.5" y1="570.25" x2="440" y2="570.25" stroke="#161616" stroke-width="3.7"/>
<text x="125.0" y="31.8" font-size="34.3" text-anchor="end" font-weight="normal" fill="#000000" transform="translate(0 31.8) scale(1 0.975) translate(0 -31.8)">000</text>
<path d="M60.79,31.80 L60.79,8.56 L58.66,8.56 C58.18,11.23 56.54,13.14 53.86,13.34 L51.87,13.34 L51.87,15.48 L57.43,15.48 L57.43,31.80 Z" fill="#000000"/>
<text x="125.0" y="215.55" font-size="34.3" text-anchor="end" font-weight="normal" fill="#000000" transform="translate(0 215.55) scale(1 0.975) translate(0 -215.55)">00</text>
<path d="M79.86,215.55 L79.86,192.31 L77.73,192.31 C77.25,194.98 75.61,196.89 72.93,197.09 L70.94,197.09 L70.94,199.23 L76.50,199.23 L76.50,215.55 Z" fill="#000000"/>
<text x="125.0" y="399.05" font-size="34.3" text-anchor="end" font-weight="normal" fill="#000000" transform="translate(0 399.05) scale(1 0.975) translate(0 -399.05)">0</text>
<path d="M98.93,399.05 L98.93,375.81 L96.81,375.81 C96.33,378.48 94.68,380.39 92.00,380.59 L90.01,380.59 L90.01,382.73 L95.57,382.73 L95.57,399.05 Z" fill="#000000"/>
<path d="M118.00,582.55 L118.00,559.31 L115.88,559.31 C115.40,561.98 113.75,563.89 111.07,564.09 L109.08,564.09 L109.08,566.23 L114.64,566.23 L114.64,582.55 Z" fill="#000000"/>
<circle cx="193.75" cy="423.75" r="7.8" fill="#d18b12"/>
<text x="203.75" y="442.75" font-size="38" text-anchor="end" font-weight="normal" fill="#d18b12" transform="rotate(-90 203.75 442.75)">c</text>
<circle cx="288.5" cy="413.25" r="7.8" fill="#d18b12"/>
<text x="298.5" y="432.25" font-size="38" text-anchor="end" font-weight="normal" fill="#d18b12" transform="rotate(-90 298.5 432.25)">b</text>
<circle cx="383.25" cy="379.25" r="7.8" fill="#d18b12"/>
<text x="393.25" y="399.55" font-size="38" text-anchor="end" font-weight="normal" fill="#d18b12" transform="rotate(-90 393.25 399.55)">a</text>
<text x="219.0" y="592.0" font-size="34.3" text-anchor="end" font-weight="normal" fill="#000000" transform="rotate(-90 219.0 592.0)">0 h</text>
<text x="313.75" y="592.0" font-size="34.3" text-anchor="end" font-weight="normal" fill="#000000" transform="rotate(-90 313.75 592.0)">24 h</text>
<text x="408.25" y="592.0" font-size="34.3" text-anchor="end" font-weight="normal" fill="#000000" transform="rotate(-90 408.25 592.0)">72 h</text>
<text x="288.75" y="703.6" font-size="35.9" text-anchor="middle" font-weight="bold" fill="#000000">Stress duration</text>
<text x="30.0" y="295.25" font-size="35.9" text-anchor="middle" font-weight="bold" fill="#000000" transform="rotate(-90 30.0 295.25)">Young modulus (GPa)</text>
<text x="7.4" y="702.8" font-size="40" text-anchor="start" font-weight="normal" fill="#000000">a)</text>
<line x1="622.5" y1="19.5" x2="925" y2="19.5" stroke="#c5c5c5" stroke-width="3.3"/>
<line x1="622.5" y1="157.5" x2="925" y2="157.5" stroke="#c5c5c5" stroke-width="3.3"/>
<line x1="622.5" y1="295.25" x2="925" y2="295.25" stroke="#c5c5c5" stroke-width="3.3"/>
<line x1="622.5" y1="432.75" x2="925" y2="432.75" stroke="#c5c5c5" stroke-width="3.3"/>
<path d="M679.5,61.4 L679.5,62.4 L679.5,63.4 L679.5,64.4 L679.5,65.4 L679.5,66.4 L679.5,67.4 L679.5,68.4 L679.5,69.4 L679.5,70.4 L679.5,71.4 L679.5,72.4 L679.5,73.4 L679.5,74.4 L679.5,75.4 L679.5,76.4 L679.5,77.4 L679.5,78.4 L679.5,79.4 L679.5,80.4 L679.5,81.4 L679.5,82.4 L679.5,83.4 L679.5,84.4 L679.5,85.4 L679.5,86.4 L679.5,87.4 L679.5,88.4 L679.5,89.4 L679.5,90.4 L679.5,91.4 L679.5,92.4 L679.5,93.4 L679.5,94.4 L679.5,95.4 L679.5,96.4 L679.5,97.4 L679.5,98.4 L679.5,99.4 L679.5,100.4 L679.5,101.4 L679.5,102.4 L679.5,103.4 L679.5,104.4 L679.5,105.4 L679.5,106.4 L679.5,107.4 L679.5,108.4 L679.5,109.4 L679.5,110.4 L679.5,111.4 L679.5,112.4 L679.5,113.4 L679.5,114.4 L679.5,115.4 L679.5,116.4 L679.5,117.4 L679.5,118.4 L679.5,119.4 L679.6,120.4 L679.6,121.4 L679.6,122.4 L679.6,123.4 L679.6,124.4 L679.6,125.4 L679.6,126.4 L679.6,127.4 L679.6,128.4 L679.6,129.4 L679.6,130.4 L679.6,131.4 L679.6,132.4 L679.6,133.4 L679.6,134.4 L679.6,135.4 L679.6,136.4 L679.6,137.4 L679.6,138.4 L679.6,139.4 L679.6,140.4 L679.6,141.4 L679.6,142.4 L679.6,143.4 L679.6,144.4 L679.6,145.4 L679.6,146.4 L679.6,147.4 L679.6,148.4 L679.6,149.4 L679.7,150.4 L679.7,151.4 L679.7,152.4 L679.7,153.4 L679.7,154.4 L679.7,155.4 L679.7,156.4 L679.7,157.4 L679.7,158.4 L679.7,159.4 L679.7,160.4 L679.7,161.4 L679.7,162.4 L679.7,163.4 L679.7,164.4 L679.7,165.4 L679.7,166.4 L679.7,167.4 L679.7,168.4 L679.7,169.4 L679.8,170.4 L679.8,171.4 L679.8,172.4 L679.8,173.4 L679.8,174.4 L679.8,175.4 L679.8,176.4 L679.8,177.4 L679.8,178.4 L679.8,179.4 L679.8,180.4 L679.8,181.4 L679.8,182.4 L679.8,183.4 L679.8,184.4 L679.8,185.4 L679.8,186.4 L679.8,187.4 L679.9,188.4 L679.9,189.4 L679.9,190.4 L679.9,191.4 L679.9,192.4 L679.9,193.4 L679.9,194.4 L679.9,195.4 L679.9,196.4 L679.9,197.4 L679.9,198.4 L679.9,199.4 L680.0,200.4 L680.0,201.4 L680.0,202.4 L680.0,203.4 L680.0,204.4 L680.0,205.4 L680.0,206.4 L680.1,207.4 L680.1,208.4 L680.1,209.4 L680.1,210.4 L680.1,211.4 L680.2,212.4 L680.2,213.4 L680.2,214.4 L680.2,215.4 L680.2,216.4 L680.3,217.4 L680.3,218.4 L680.3,219.4 L680.3,220.4 L680.4,221.4 L680.4,222.4 L680.4,223.4 L680.4,224.4 L680.5,225.4 L680.5,226.4 L680.5,227.4 L680.5,228.4 L680.6,229.4 L680.6,230.4 L680.6,231.4 L680.6,232.4 L680.6,233.4 L680.7,234.4 L680.7,235.4 L680.7,236.4 L680.7,237.4 L680.8,238.4 L680.8,239.4 L680.8,240.4 L680.9,241.4 L680.9,242.4 L680.9,243.4 L681.0,244.4 L681.0,245.4 L681.0,246.4 L681.0,247.4 L681.1,248.4 L681.1,249.4 L681.2,250.4 L681.2,251.4 L681.2,252.4 L681.3,253.4 L681.3,254.4 L681.4,255.4 L681.4,256.4 L681.5,257.4 L681.5,258.4 L681.6,259.4 L681.6,260.4 L681.7,261.4 L681.7,262.4 L681.8,263.4 L681.8,264.4 L681.9,265.4 L681.9,266.4 L682.0,267.4 L682.0,268.4 L682.1,269.4 L682.2,270.4 L682.2,271.4 L682.3,272.4 L682.4,273.4 L682.4,274.4 L682.5,275.4 L682.5,276.4 L682.6,277.4 L682.7,278.4 L682.7,279.4 L682.8,280.4 L682.9,281.4 L682.9,282.4 L683.0,283.4 L683.1,284.4 L683.1,285.4 L683.2,286.4 L683.2,287.4 L683.3,288.4 L683.3,289.4 L683.4,290.4 L683.4,291.4 L683.5,292.4 L683.5,293.4 L683.6,294.4 L683.6,295.4 L683.7,296.4 L683.7,297.4 L683.8,298.4 L683.8,299.4 L683.9,300.4 L683.9,301.4 L684.0,302.4 L684.1,303.4 L684.1,304.4 L684.2,305.4 L684.3,306.4 L684.3,307.4 L684.4,308.4 L684.5,309.4 L684.6,310.4 L684.7,311.4 L684.8,312.4 L684.9,313.4 L685.0,314.4 L685.1,315.4 L685.2,316.4 L685.3,317.4 L685.4,318.4 L685.5,319.4 L685.6,320.4 L685.7,321.4 L685.8,322.4 L685.9,323.4 L686.0,324.4 L686.1,325.4 L686.2,326.4 L686.3,327.4 L686.5,328.4 L686.6,329.4 L686.7,330.4 L686.8,331.4 L687.0,332.4 L687.1,333.4 L687.3,334.4 L687.4,335.4 L687.6,336.4 L687.8,337.4 L687.9,338.4 L688.1,339.4 L688.3,340.4 L688.5,341.4 L688.8,342.4 L689.0,343.4 L689.3,344.4 L689.6,345.4 L689.9,346.4 L690.2,347.4 L690.6,348.4 L690.9,349.4 L691.3,350.4 L691.6,351.4 L692.0,352.4 L692.3,353.4 L692.6,354.4 L693.0,355.4 L693.3,356.4 L693.7,357.4 L694.0,358.4 L694.4,359.4 L694.7,360.4 L695.0,361.4 L695.3,362.4 L695.6,363.4 L695.9,364.4 L696.2,365.4 L696.4,366.4 L696.6,367.4 L696.7,368.4 L696.9,369.4 L697.0,370.4 L697.1,371.4 L697.2,372.4 L697.3,373.4 L697.4,374.4 L697.5,375.4 L697.5,376.4 L697.6,377.4 L697.7,378.4 L697.8,379.4 L697.9,380.4 L698.0,381.4 L698.0,382.4 L698.1,383.4 L698.2,384.4 L698.3,385.4 L698.4,386.4 L698.5,387.4 L698.6,388.4 L698.8,389.4 L698.9,390.4 L699.2,391.4 L699.5,392.4 L699.8,393.4 L700.2,394.4 L700.6,395.4 L701.1,396.4 L701.5,397.4 L702.0,398.4 L702.5,399.4 L703.0,400.4 L703.5,401.4 L704.1,402.4 L704.6,403.4 L705.2,404.4 L705.7,405.4 L706.2,406.4 L706.7,407.4 L707.2,408.4 L707.7,409.4 L708.2,410.4 L708.6,411.4 L709.0,412.4 L709.4,413.4 L709.8,414.4 L710.2,415.4 L710.5,416.4 L710.8,417.4 L711.0,418.4 L711.2,419.4 L711.3,420.4 L711.3,421.4 L711.2,422.4 L711.1,423.4 L711.0,424.4 L710.8,425.4 L710.6,426.4 L710.4,427.4 L710.2,428.4 L710.1,429.4 L709.9,430.4 L709.8,431.4 L709.8,432.4 L709.7,433.4 L709.8,434.4 L709.8,435.4 L709.9,436.4 L709.9,437.4 L710.0,438.4 L710.2,439.4 L710.3,440.4 L710.4,441.4 L710.6,442.4 L710.7,443.4 L710.9,444.4 L711.1,445.4 L711.4,446.4 L711.6,447.4 L711.8,448.4 L712.1,449.4 L712.3,450.4 L712.6,451.4 L712.8,452.4 L713.1,453.4 L713.4,454.4 L713.6,455.4 L713.9,456.4 L714.1,457.4 L714.4,458.4 L714.6,459.4 L714.9,460.4 L715.1,461.4 L715.4,462.4 L715.6,463.4 L715.9,464.4 L716.1,465.4 L716.3,466.4 L716.5,467.4 L716.6,468.4 L716.6,469.4 L716.6,470.4 L716.4,471.4 L716.2,472.4 L715.8,473.4 L715.4,474.4 L715.0,475.4 L714.5,476.4 L714.0,477.4 L713.4,478.4 L712.8,479.4 L712.2,480.4 L711.6,481.4 L710.9,482.4 L710.3,483.4 L709.7,484.4 L709.1,485.4 L708.4,486.4 L707.9,487.4 L707.3,488.4 L706.7,489.4 L706.2,490.4 L705.6,491.4 L705.1,492.4 L704.6,493.4 L704.1,494.4 L703.6,495.4 L703.2,496.4 L702.7,497.4 L702.3,498.4 L701.9,499.4 L701.5,500.4 L701.1,501.4 L700.7,502.4 L700.3,503.4 L700.0,504.4 L699.6,505.4 L699.3,506.4 L698.9,507.4 L698.6,508.4 L698.2,509.4 L697.9,510.4 L697.5,511.4 L697.2,512.4 L696.9,513.4 L696.6,514.4 L696.3,515.4 L696.0,516.4 L695.8,517.4 L695.6,518.4 L695.4,519.4 L695.2,520.4 L695.1,521.4 L695.0,522.4 L694.9,523.4 L694.8,524.4 L694.7,525.4 L694.6,526.4 L694.5,527.4 L694.5,528.4 L694.4,529.4 L694.3,530.4 L694.2,531.4 L694.1,532.4 L693.9,533.4 L693.8,534.4 L693.6,535.4 L693.3,536.4 L693.0,537.4 L692.7,538.4 L692.3,539.4 L691.9,540.4 L691.4,541.4 L690.9,542.4 L690.4,543.4 L689.8,544.4 L689.3,545.4 L688.7,546.4 L688.2,547.4 L687.7,548.4 L687.2,549.4 L686.8,550.4 L686.4,551.4 L686.0,552.4 L685.6,553.4 L685.2,554.4 L684.8,555.4 L684.3,556.4 L683.9,557.4 L683.5,558.4 L683.1,559.4 L682.8,560.4 L682.6,561.0 L675.9,561.0 L675.7,560.4 L675.4,559.4 L675.0,558.4 L674.6,557.4 L674.2,556.4 L673.7,555.4 L673.3,554.4 L672.9,553.4 L672.5,552.4 L672.1,551.4 L671.7,550.4 L671.3,549.4 L670.8,548.4 L670.3,547.4 L669.8,546.4 L669.2,545.4 L668.7,544.4 L668.1,543.4 L667.6,542.4 L667.1,541.4 L666.6,540.4 L666.2,539.4 L665.8,538.4 L665.5,537.4 L665.2,536.4 L664.9,535.4 L664.7,534.4 L664.6,533.4 L664.4,532.4 L664.3,531.4 L664.2,530.4 L664.1,529.4 L664.0,528.4 L664.0,527.4 L663.9,526.4 L663.8,525.4 L663.7,524.4 L663.6,523.4 L663.5,522.4 L663.4,521.4 L663.3,520.4 L663.1,519.4 L662.9,518.4 L662.7,517.4 L662.5,516.4 L662.2,515.4 L661.9,514.4 L661.6,513.4 L661.3,512.4 L661.0,511.4 L660.6,510.4 L660.3,509.4 L659.9,508.4 L659.6,507.4 L659.2,506.4 L658.9,505.4 L658.5,504.4 L658.2,503.4 L657.8,502.4 L657.4,501.4 L657.0,500.4 L656.6,499.4 L656.2,498.4 L655.8,497.4 L655.3,496.4 L654.9,495.4 L654.4,494.4 L653.9,493.4 L653.4,492.4 L652.9,491.4 L652.3,490.4 L651.8,489.4 L651.2,488.4 L650.6,487.4 L650.1,486.4 L649.4,485.4 L648.8,484.4 L648.2,483.4 L647.6,482.4 L646.9,481.4 L646.3,480.4 L645.7,479.4 L645.1,478.4 L644.5,477.4 L644.0,476.4 L643.5,475.4 L643.1,474.4 L642.7,473.4 L642.3,472.4 L642.1,471.4 L641.9,470.4 L641.9,469.4 L641.9,468.4 L642.0,467.4 L642.2,466.4 L642.4,465.4 L642.6,464.4 L642.9,463.4 L643.1,462.4 L643.4,461.4 L643.6,460.4 L643.9,459.4 L644.1,458.4 L644.4,457.4 L644.6,456.4 L644.9,455.4 L645.1,454.4 L645.4,453.4 L645.7,452.4 L645.9,451.4 L646.2,450.4 L646.4,449.4 L646.7,448.4 L646.9,447.4 L647.1,446.4 L647.4,445.4 L647.6,444.4 L647.8,443.4 L647.9,442.4 L648.1,441.4 L648.2,440.4 L648.3,439.4 L648.5,438.4 L648.6,437.4 L648.6,436.4 L648.7,435.4 L648.7,434.4 L648.8,433.4 L648.7,432.4 L648.7,431.4 L648.6,430.4 L648.4,429.4 L648.3,428.4 L648.1,427.4 L647.9,426.4 L647.7,425.4 L647.5,424.4 L647.4,423.4 L647.3,422.4 L647.2,421.4 L647.2,420.4 L647.3,419.4 L647.5,418.4 L647.7,417.4 L648.0,416.4 L648.3,415.4 L648.7,414.4 L649.1,413.4 L649.5,412.4 L649.9,411.4 L650.3,410.4 L650.8,409.4 L651.3,408.4 L651.8,407.4 L652.3,406.4 L652.8,405.4 L653.3,404.4 L653.9,403.4 L654.4,402.4 L655.0,401.4 L655.5,400.4 L656.0,399.4 L656.5,398.4 L657.0,397.4 L657.4,396.4 L657.9,395.4 L658.3,394.4 L658.7,393.4 L659.0,392.4 L659.3,391.4 L659.6,390.4 L659.7,389.4 L659.9,388.4 L660.0,387.4 L660.1,386.4 L660.2,385.4 L660.3,384.4 L660.4,383.4 L660.5,382.4 L660.5,381.4 L660.6,380.4 L660.7,379.4 L660.8,378.4 L660.9,377.4 L661.0,376.4 L661.0,375.4 L661.1,374.4 L661.2,373.4 L661.3,372.4 L661.4,371.4 L661.5,370.4 L661.6,369.4 L661.8,368.4 L661.9,367.4 L662.1,366.4 L662.3,365.4 L662.6,364.4 L662.9,363.4 L663.2,362.4 L663.5,361.4 L663.8,360.4 L664.1,359.4 L664.5,358.4 L664.8,357.4 L665.2,356.4 L665.5,355.4 L665.9,354.4 L666.2,353.4 L666.5,352.4 L666.9,351.4 L667.2,350.4 L667.6,349.4 L667.9,348.4 L668.3,347.4 L668.6,346.4 L668.9,345.4 L669.2,344.4 L669.5,343.4 L669.7,342.4 L670.0,341.4 L670.2,340.4 L670.4,339.4 L670.6,338.4 L670.7,337.4 L670.9,336.4 L671.1,335.4 L671.2,334.4 L671.4,333.4 L671.5,332.4 L671.7,331.4 L671.8,330.4 L671.9,329.4 L672.0,328.4 L672.2,327.4 L672.3,326.4 L672.4,325.4 L672.5,324.4 L672.6,323.4 L672.7,322.4 L672.8,321.4 L672.9,320.4 L673.0,319.4 L673.1,318.4 L673.2,317.4 L673.3,316.4 L673.4,315.4 L673.5,314.4 L673.6,313.4 L673.7,312.4 L673.8,311.4 L673.9,310.4 L674.0,309.4 L674.1,308.4 L674.2,307.4 L674.2,306.4 L674.3,305.4 L674.4,304.4 L674.4,303.4 L674.5,302.4 L674.6,301.4 L674.6,300.4 L674.7,299.4 L674.7,298.4 L674.8,297.4 L674.8,296.4 L674.9,295.4 L674.9,294.4 L675.0,293.4 L675.0,292.4 L675.1,291.4 L675.1,290.4 L675.2,289.4 L675.2,288.4 L675.3,287.4 L675.3,286.4 L675.4,285.4 L675.4,284.4 L675.5,283.4 L675.6,282.4 L675.6,281.4 L675.7,280.4 L675.8,279.4 L675.8,278.4 L675.9,277.4 L676.0,276.4 L676.0,275.4 L676.1,274.4 L676.1,273.4 L676.2,272.4 L676.3,271.4 L676.3,270.4 L676.4,269.4 L676.5,268.4 L676.5,267.4 L676.6,266.4 L676.6,265.4 L676.7,264.4 L676.7,263.4 L676.8,262.4 L676.8,261.4 L676.9,260.4 L676.9,259.4 L677.0,258.4 L677.0,257.4 L677.1,256.4 L677.1,255.4 L677.2,254.4 L677.2,253.4 L677.3,252.4 L677.3,251.4 L677.3,250.4 L677.4,249.4 L677.4,248.4 L677.5,247.4 L677.5,246.4 L677.5,245.4 L677.5,244.4 L677.6,243.4 L677.6,242.4 L677.6,241.4 L677.7,240.4 L677.7,239.4 L677.7,238.4 L677.8,237.4 L677.8,236.4 L677.8,235.4 L677.8,234.4 L677.9,233.4 L677.9,232.4 L677.9,231.4 L677.9,230.4 L677.9,229.4 L678.0,228.4 L678.0,227.4 L678.0,226.4 L678.0,225.4 L678.1,224.4 L678.1,223.4 L678.1,222.4 L678.1,221.4 L678.2,220.4 L678.2,219.4 L678.2,218.4 L678.2,217.4 L678.3,216.4 L678.3,215.4 L678.3,214.4 L678.3,213.4 L678.3,212.4 L678.4,211.4 L678.4,210.4 L678.4,209.4 L678.4,208.4 L678.4,207.4 L678.5,206.4 L678.5,205.4 L678.5,204.4 L678.5,203.4 L678.5,202.4 L678.5,201.4 L678.5,200.4 L678.6,199.4 L678.6,198.4 L678.6,197.4 L678.6,196.4 L678.6,195.4 L678.6,194.4 L678.6,193.4 L678.6,192.4 L678.6,191.4 L678.6,190.4 L678.6,189.4 L678.6,188.4 L678.7,187.4 L678.7,186.4 L678.7,185.4 L678.7,184.4 L678.7,183.4 L678.7,182.4 L678.7,181.4 L678.7,180.4 L678.7,179.4 L678.7,178.4 L678.7,177.4 L678.7,176.4 L678.7,175.4 L678.7,174.4 L678.7,173.4 L678.7,172.4 L678.7,171.4 L678.7,170.4 L678.8,169.4 L678.8,168.4 L678.8,167.4 L678.8,166.4 L678.8,165.4 L678.8,164.4 L678.8,163.4 L678.8,162.4 L678.8,161.4 L678.8,160.4 L678.8,159.4 L678.8,158.4 L678.8,157.4 L678.8,156.4 L678.8,155.4 L678.8,154.4 L678.8,153.4 L678.8,152.4 L678.8,151.4 L678.8,150.4 L678.9,149.4 L678.9,148.4 L678.9,147.4 L678.9,146.4 L678.9,145.4 L678.9,144.4 L678.9,143.4 L678.9,142.4 L678.9,141.4 L678.9,140.4 L678.9,139.4 L678.9,138.4 L678.9,137.4 L678.9,136.4 L678.9,135.4 L678.9,134.4 L678.9,133.4 L678.9,132.4 L678.9,131.4 L678.9,130.4 L678.9,129.4 L678.9,128.4 L678.9,127.4 L678.9,126.4 L678.9,125.4 L678.9,124.4 L678.9,123.4 L678.9,122.4 L678.9,121.4 L678.9,120.4 L679.0,119.4 L679.0,118.4 L679.0,117.4 L679.0,116.4 L679.0,115.4 L679.0,114.4 L679.0,113.4 L679.0,112.4 L679.0,111.4 L679.0,110.4 L679.0,109.4 L679.0,108.4 L679.0,107.4 L679.0,106.4 L679.0,105.4 L679.0,104.4 L679.0,103.4 L679.0,102.4 L679.0,101.4 L679.0,100.4 L679.0,99.4 L679.0,98.4 L679.0,97.4 L679.0,96.4 L679.0,95.4 L679.0,94.4 L679.0,93.4 L679.0,92.4 L679.0,91.4 L679.0,90.4 L679.0,89.4 L679.0,88.4 L679.0,87.4 L679.0,86.4 L679.0,85.4 L679.0,84.4 L679.0,83.4 L679.0,82.4 L679.0,81.4 L679.0,80.4 L679.0,79.4 L679.0,78.4 L679.0,77.4 L679.0,76.4 L679.0,75.4 L679.0,74.4 L679.0,73.4 L679.0,72.4 L679.0,71.4 L679.0,70.4 L679.0,69.4 L679.0,68.4 L679.0,67.4 L679.0,66.4 L679.0,65.4 L679.0,64.4 L679.0,63.4 L679.0,62.4 L679.0,61.4 Z" fill="#ffffff" stroke="#6e6e6e" stroke-width="3.2" stroke-linejoin="round"/>
<path d="M774.3,77.2 L774.3,78.2 L774.3,79.2 L774.3,80.2 L774.3,81.2 L774.3,82.2 L774.3,83.2 L774.3,84.2 L774.3,85.2 L774.3,86.2 L774.3,87.2 L774.3,88.2 L774.3,89.2 L774.3,90.2 L774.3,91.2 L774.3,92.2 L774.3,93.2 L774.3,94.2 L774.3,95.2 L774.3,96.2 L774.3,97.2 L774.3,98.2 L774.3,99.2 L774.3,100.2 L774.3,101.2 L774.3,102.2 L774.3,103.2 L774.3,104.2 L774.3,105.2 L774.3,106.2 L774.3,107.2 L774.3,108.2 L774.3,109.2 L774.3,110.2 L774.3,111.2 L774.3,112.2 L774.3,113.2 L774.3,114.2 L774.3,115.2 L774.3,116.2 L774.3,117.2 L774.3,118.2 L774.3,119.2 L774.3,120.2 L774.3,121.2 L774.3,122.2 L774.3,123.2 L774.3,124.2 L774.3,125.2 L774.3,126.2 L774.3,127.2 L774.3,128.2 L774.3,129.2 L774.4,130.2 L774.4,131.2 L774.4,132.2 L774.4,133.2 L774.4,134.2 L774.4,135.2 L774.4,136.2 L774.4,137.2 L774.4,138.2 L774.4,139.2 L774.4,140.2 L774.4,141.2 L774.5,142.2 L774.5,143.2 L774.5,144.2 L774.5,145.2 L774.5,146.2 L774.5,147.2 L774.5,148.2 L774.5,149.2 L774.6,150.2 L774.6,151.2 L774.6,152.2 L774.6,153.2 L774.6,154.2 L774.6,155.2 L774.7,156.2 L774.7,157.2 L774.7,158.2 L774.7,159.2 L774.7,160.2 L774.7,161.2 L774.8,162.2 L774.8,163.2 L774.8,164.2 L774.8,165.2 L774.8,166.2 L774.9,167.2 L774.9,168.2 L774.9,169.2 L774.9,170.2 L774.9,171.2 L774.9,172.2 L775.0,173.2 L775.0,174.2 L775.0,175.2 L775.0,176.2 L775.0,177.2 L775.1,178.2 L775.1,179.2 L775.1,180.2 L775.1,181.2 L775.1,182.2 L775.2,183.2 L775.2,184.2 L775.2,185.2 L775.2,186.2 L775.3,187.2 L775.3,188.2 L775.3,189.2 L775.3,190.2 L775.3,191.2 L775.4,192.2 L775.4,193.2 L775.4,194.2 L775.4,195.2 L775.4,196.2 L775.5,197.2 L775.5,198.2 L775.5,199.2 L775.5,200.2 L775.5,201.2 L775.5,202.2 L775.5,203.2 L775.5,204.2 L775.6,205.2 L775.6,206.2 L775.6,207.2 L775.6,208.2 L775.6,209.2 L775.6,210.2 L775.6,211.2 L775.6,212.2 L775.6,213.2 L775.6,214.2 L775.6,215.2 L775.7,216.2 L775.7,217.2 L775.7,218.2 L775.7,219.2 L775.7,220.2 L775.7,221.2 L775.7,222.2 L775.7,223.2 L775.7,224.2 L775.8,225.2 L775.8,226.2 L775.8,227.2 L775.8,228.2 L775.8,229.2 L775.8,230.2 L775.8,231.2 L775.9,232.2 L775.9,233.2 L775.9,234.2 L775.9,235.2 L775.9,236.2 L775.9,237.2 L776.0,238.2 L776.0,239.2 L776.0,240.2 L776.0,241.2 L776.1,242.2 L776.1,243.2 L776.2,244.2 L776.2,245.2 L776.3,246.2 L776.3,247.2 L776.4,248.2 L776.4,249.2 L776.5,250.2 L776.6,251.2 L776.6,252.2 L776.7,253.2 L776.8,254.2 L776.9,255.2 L776.9,256.2 L777.0,257.2 L777.1,258.2 L777.2,259.2 L777.2,260.2 L777.3,261.2 L777.4,262.2 L777.5,263.2 L777.5,264.2 L777.6,265.2 L777.7,266.2 L777.8,267.2 L777.8,268.2 L777.9,269.2 L778.0,270.2 L778.1,271.2 L778.1,272.2 L778.2,273.2 L778.3,274.2 L778.4,275.2 L778.4,276.2 L778.5,277.2 L778.6,278.2 L778.7,279.2 L778.7,280.2 L778.8,281.2 L778.9,282.2 L778.9,283.2 L779.0,284.2 L779.1,285.2 L779.1,286.2 L779.2,287.2 L779.2,288.2 L779.3,289.2 L779.3,290.2 L779.4,291.2 L779.4,292.2 L779.5,293.2 L779.5,294.2 L779.5,295.2 L779.6,296.2 L779.6,297.2 L779.7,298.2 L779.7,299.2 L779.7,300.2 L779.8,301.2 L779.8,302.2 L779.9,303.2 L780.0,304.2 L780.0,305.2 L780.1,306.2 L780.2,307.2 L780.3,308.2 L780.4,309.2 L780.5,310.2 L780.6,311.2 L780.8,312.2 L780.9,313.2 L781.0,314.2 L781.2,315.2 L781.3,316.2 L781.5,317.2 L781.6,318.2 L781.8,319.2 L781.9,320.2 L782.1,321.2 L782.2,322.2 L782.4,323.2 L782.6,324.2 L782.7,325.2 L782.9,326.2 L783.1,327.2 L783.3,328.2 L783.5,329.2 L783.7,330.2 L783.9,331.2 L784.1,332.2 L784.3,333.2 L784.5,334.2 L784.7,335.2 L785.0,336.2 L785.2,337.2 L785.4,338.2 L785.7,339.2 L785.9,340.2 L786.2,341.2 L786.4,342.2 L786.7,343.2 L786.9,344.2 L787.2,345.2 L787.5,346.2 L787.7,347.2 L788.0,348.2 L788.3,349.2 L788.6,350.2 L788.8,351.2 L789.1,352.2 L789.4,353.2 L789.7,354.2 L790.0,355.2 L790.3,356.2 L790.5,357.2 L790.8,358.2 L791.1,359.2 L791.4,360.2 L791.7,361.2 L792.0,362.2 L792.3,363.2 L792.6,364.2 L792.9,365.2 L793.2,366.2 L793.5,367.2 L793.8,368.2 L794.1,369.2 L794.3,370.2 L794.6,371.2 L794.9,372.2 L795.1,373.2 L795.4,374.2 L795.7,375.2 L795.9,376.2 L796.2,377.2 L796.5,378.2 L796.8,379.2 L797.1,380.2 L797.4,381.2 L797.7,382.2 L797.9,383.2 L798.3,384.2 L798.6,385.2 L798.9,386.2 L799.2,387.2 L799.6,388.2 L800.0,389.2 L800.4,390.2 L800.8,391.2 L801.2,392.2 L801.7,393.2 L802.2,394.2 L802.7,395.2 L803.3,396.2 L803.8,397.2 L804.4,398.2 L804.9,399.2 L805.5,400.2 L806.0,401.2 L806.5,402.2 L807.1,403.2 L807.7,404.2 L808.2,405.2 L808.8,406.2 L809.4,407.2 L809.9,408.2 L810.5,409.2 L811.0,410.2 L811.5,411.2 L811.9,412.2 L812.3,413.2 L812.6,414.2 L812.9,415.2 L813.2,416.2 L813.4,417.2 L813.6,418.2 L813.8,419.2 L814.0,420.2 L814.2,421.2 L814.3,422.2 L814.5,423.2 L814.6,424.2 L814.7,425.2 L814.8,426.2 L815.0,427.2 L815.1,428.2 L815.2,429.2 L815.3,430.2 L815.3,431.2 L815.3,432.2 L815.3,433.2 L815.1,434.2 L814.9,435.2 L814.7,436.2 L814.4,437.2 L814.1,438.2 L813.8,439.2 L813.4,440.2 L813.1,441.2 L812.8,442.2 L812.4,443.2 L812.1,444.2 L811.7,445.2 L811.4,446.2 L811.0,447.2 L810.7,448.2 L810.4,449.2 L810.2,450.2 L810.0,451.2 L809.8,452.2 L809.7,453.2 L809.6,454.2 L809.5,455.2 L809.5,456.2 L809.4,457.2 L809.4,458.2 L809.3,459.2 L809.3,460.2 L809.2,461.2 L809.2,462.2 L809.1,463.2 L809.0,464.2 L808.9,465.2 L808.8,466.2 L808.7,467.2 L808.5,468.2 L808.3,469.2 L808.1,470.2 L807.9,471.2 L807.6,472.2 L807.3,473.2 L807.0,474.2 L806.7,475.2 L806.4,476.2 L806.0,477.2 L805.6,478.2 L805.2,479.2 L804.7,480.2 L804.1,481.2 L803.5,482.2 L802.9,483.2 L802.2,484.2 L801.5,485.2 L800.8,486.2 L800.1,487.2 L799.3,488.2 L798.6,489.2 L797.8,490.2 L797.1,491.2 L796.3,492.2 L795.6,493.2 L794.8,494.2 L794.1,495.2 L793.3,496.2 L792.5,497.2 L791.7,498.2 L790.9,499.2 L790.1,500.2 L789.2,501.2 L788.4,502.2 L787.6,503.2 L786.9,504.2 L786.1,505.2 L785.3,506.2 L784.6,507.2 L783.9,508.2 L783.1,509.2 L782.4,510.2 L781.7,511.2 L781.0,512.2 L780.3,513.2 L779.6,514.2 L779.0,515.2 L778.4,516.2 L777.9,517.2 L777.4,518.2 L777.0,519.2 L776.6,520.2 L776.3,521.2 L776.0,522.2 L775.7,523.2 L775.5,524.2 L775.3,525.2 L775.2,526.2 L775.1,527.2 L775.0,528.2 L774.9,529.2 L774.8,530.2 L774.8,531.2 L774.7,532.2 L774.7,533.2 L774.7,534.2 L774.6,535.2 L774.6,536.2 L774.6,537.2 L774.6,538.2 L774.5,539.2 L774.5,540.2 L774.5,541.2 L774.5,542.2 L774.5,543.2 L774.5,544.2 L774.5,545.2 L774.5,546.2 L774.4,547.2 L774.4,548.2 L774.4,549.2 L774.4,550.2 L774.4,551.2 L774.4,552.2 L774.4,553.2 L774.4,554.2 L774.4,555.2 L774.4,556.2 L774.4,557.2 L774.4,558.2 L774.4,559.2 L774.4,560.2 L774.4,561.0 L773.6,561.0 L773.6,560.2 L773.6,559.2 L773.6,558.2 L773.6,557.2 L773.6,556.2 L773.6,555.2 L773.6,554.2 L773.6,553.2 L773.6,552.2 L773.6,551.2 L773.6,550.2 L773.6,549.2 L773.6,548.2 L773.6,547.2 L773.5,546.2 L773.5,545.2 L773.5,544.2 L773.5,543.2 L773.5,542.2 L773.5,541.2 L773.5,540.2 L773.5,539.2 L773.4,538.2 L773.4,537.2 L773.4,536.2 L773.4,535.2 L773.3,534.2 L773.3,533.2 L773.3,532.2 L773.2,531.2 L773.2,530.2 L773.1,529.2 L773.0,528.2 L772.9,527.2 L772.8,526.2 L772.7,525.2 L772.5,524.2 L772.3,523.2 L772.0,522.2 L771.7,521.2 L771.4,520.2 L771.0,519.2 L770.6,518.2 L770.1,517.2 L769.6,516.2 L769.0,515.2 L768.4,514.2 L767.7,513.2 L767.0,512.2 L766.3,511.2 L765.6,510.2 L764.9,509.2 L764.1,508.2 L763.4,507.2 L762.7,506.2 L761.9,505.2 L761.1,504.2 L760.4,503.2 L759.6,502.2 L758.8,501.2 L757.9,500.2 L757.1,499.2 L756.3,498.2 L755.5,497.2 L754.7,496.2 L753.9,495.2 L753.2,494.2 L752.4,493.2 L751.7,492.2 L750.9,491.2 L750.2,490.2 L749.4,489.2 L748.7,488.2 L747.9,487.2 L747.2,486.2 L746.5,485.2 L745.8,484.2 L745.1,483.2 L744.5,482.2 L743.9,481.2 L743.3,480.2 L742.8,479.2 L742.4,478.2 L742.0,477.2 L741.6,476.2 L741.3,475.2 L741.0,474.2 L740.7,473.2 L740.4,472.2 L740.1,471.2 L739.9,470.2 L739.7,469.2 L739.5,468.2 L739.3,467.2 L739.2,466.2 L739.1,465.2 L739.0,464.2 L738.9,463.2 L738.8,462.2 L738.8,461.2 L738.7,460.2 L738.7,459.2 L738.6,458.2 L738.6,457.2 L738.5,456.2 L738.5,455.2 L738.4,454.2 L738.3,453.2 L738.2,452.2 L738.0,451.2 L737.8,450.2 L737.6,449.2 L737.3,448.2 L737.0,447.2 L736.6,446.2 L736.3,445.2 L735.9,444.2 L735.6,443.2 L735.2,442.2 L734.9,441.2 L734.6,440.2 L734.2,439.2 L733.9,438.2 L733.6,437.2 L733.3,436.2 L733.1,435.2 L732.9,434.2 L732.7,433.2 L732.7,432.2 L732.7,431.2 L732.7,430.2 L732.8,429.2 L732.9,428.2 L733.0,427.2 L733.2,426.2 L733.3,425.2 L733.4,424.2 L733.5,423.2 L733.7,422.2 L733.8,421.2 L734.0,420.2 L734.2,419.2 L734.4,418.2 L734.6,417.2 L734.8,416.2 L735.1,415.2 L735.4,414.2 L735.7,413.2 L736.1,412.2 L736.5,411.2 L737.0,410.2 L737.5,409.2 L738.1,408.2 L738.6,407.2 L739.2,406.2 L739.8,405.2 L740.3,404.2 L740.9,403.2 L741.5,402.2 L742.0,401.2 L742.5,400.2 L743.1,399.2 L743.6,398.2 L744.2,397.2 L744.7,396.2 L745.3,395.2 L745.8,394.2 L746.3,393.2 L746.8,392.2 L747.2,391.2 L747.6,390.2 L748.0,389.2 L748.4,388.2 L748.8,387.2 L749.1,386.2 L749.4,385.2 L749.7,384.2 L750.1,383.2 L750.3,382.2 L750.6,381.2 L750.9,380.2 L751.2,379.2 L751.5,378.2 L751.8,377.2 L752.1,376.2 L752.3,375.2 L752.6,374.2 L752.9,373.2 L753.1,372.2 L753.4,371.2 L753.7,370.2 L753.9,369.2 L754.2,368.2 L754.5,367.2 L754.8,366.2 L755.1,365.2 L755.4,364.2 L755.7,363.2 L756.0,362.2 L756.3,361.2 L756.6,360.2 L756.9,359.2 L757.2,358.2 L757.5,357.2 L757.7,356.2 L758.0,355.2 L758.3,354.2 L758.6,353.2 L758.9,352.2 L759.2,351.2 L759.4,350.2 L759.7,349.2 L760.0,348.2 L760.3,347.2 L760.5,346.2 L760.8,345.2 L761.1,344.2 L761.3,343.2 L761.6,342.2 L761.8,341.2 L762.1,340.2 L762.3,339.2 L762.6,338.2 L762.8,337.2 L763.0,336.2 L763.3,335.2 L763.5,334.2 L763.7,333.2 L763.9,332.2 L764.1,331.2 L764.3,330.2 L764.5,329.2 L764.7,328.2 L764.9,327.2 L765.1,326.2 L765.3,325.2 L765.4,324.2 L765.6,323.2 L765.8,322.2 L765.9,321.2 L766.1,320.2 L766.2,319.2 L766.4,318.2 L766.5,317.2 L766.7,316.2 L766.8,315.2 L767.0,314.2 L767.1,313.2 L767.2,312.2 L767.4,311.2 L767.5,310.2 L767.6,309.2 L767.7,308.2 L767.8,307.2 L767.9,306.2 L768.0,305.2 L768.0,304.2 L768.1,303.2 L768.2,302.2 L768.2,301.2 L768.3,300.2 L768.3,299.2 L768.3,298.2 L768.4,297.2 L768.4,296.2 L768.5,295.2 L768.5,294.2 L768.5,293.2 L768.6,292.2 L768.6,291.2 L768.7,290.2 L768.7,289.2 L768.8,288.2 L768.8,287.2 L768.9,286.2 L768.9,285.2 L769.0,284.2 L769.1,283.2 L769.1,282.2 L769.2,281.2 L769.3,280.2 L769.3,279.2 L769.4,278.2 L769.5,277.2 L769.6,276.2 L769.6,275.2 L769.7,274.2 L769.8,273.2 L769.9,272.2 L769.9,271.2 L770.0,270.2 L770.1,269.2 L770.2,268.2 L770.2,267.2 L770.3,266.2 L770.4,265.2 L770.5,264.2 L770.5,263.2 L770.6,262.2 L770.7,261.2 L770.8,260.2 L770.8,259.2 L770.9,258.2 L771.0,257.2 L771.1,256.2 L771.1,255.2 L771.2,254.2 L771.3,253.2 L771.4,252.2 L771.4,251.2 L771.5,250.2 L771.6,249.2 L771.6,248.2 L771.7,247.2 L771.7,246.2 L771.8,245.2 L771.8,244.2 L771.9,243.2 L771.9,242.2 L772.0,241.2 L772.0,240.2 L772.0,239.2 L772.0,238.2 L772.1,237.2 L772.1,236.2 L772.1,235.2 L772.1,234.2 L772.1,233.2 L772.1,232.2 L772.2,231.2 L772.2,230.2 L772.2,229.2 L772.2,228.2 L772.2,227.2 L772.2,226.2 L772.2,225.2 L772.3,224.2 L772.3,223.2 L772.3,222.2 L772.3,221.2 L772.3,220.2 L772.3,219.2 L772.3,218.2 L772.3,217.2 L772.3,216.2 L772.4,215.2 L772.4,214.2 L772.4,213.2 L772.4,212.2 L772.4,211.2 L772.4,210.2 L772.4,209.2 L772.4,208.2 L772.4,207.2 L772.4,206.2 L772.4,205.2 L772.5,204.2 L772.5,203.2 L772.5,202.2 L772.5,201.2 L772.5,200.2 L772.5,199.2 L772.5,198.2 L772.5,197.2 L772.6,196.2 L772.6,195.2 L772.6,194.2 L772.6,193.2 L772.6,192.2 L772.7,191.2 L772.7,190.2 L772.7,189.2 L772.7,188.2 L772.7,187.2 L772.8,186.2 L772.8,185.2 L772.8,184.2 L772.8,183.2 L772.9,182.2 L772.9,181.2 L772.9,180.2 L772.9,179.2 L772.9,178.2 L773.0,177.2 L773.0,176.2 L773.0,175.2 L773.0,174.2 L773.0,173.2 L773.1,172.2 L773.1,171.2 L773.1,170.2 L773.1,169.2 L773.1,168.2 L773.1,167.2 L773.2,166.2 L773.2,165.2 L773.2,164.2 L773.2,163.2 L773.2,162.2 L773.3,161.2 L773.3,160.2 L773.3,159.2 L773.3,158.2 L773.3,157.2 L773.3,156.2 L773.4,155.2 L773.4,154.2 L773.4,153.2 L773.4,152.2 L773.4,151.2 L773.4,150.2 L773.5,149.2 L773.5,148.2 L773.5,147.2 L773.5,146.2 L773.5,145.2 L773.5,144.2 L773.5,143.2 L773.5,142.2 L773.6,141.2 L773.6,140.2 L773.6,139.2 L773.6,138.2 L773.6,137.2 L773.6,136.2 L773.6,135.2 L773.6,134.2 L773.6,133.2 L773.6,132.2 L773.6,131.2 L773.6,130.2 L773.7,129.2 L773.7,128.2 L773.7,127.2 L773.7,126.2 L773.7,125.2 L773.7,124.2 L773.7,123.2 L773.7,122.2 L773.7,121.2 L773.7,120.2 L773.7,119.2 L773.7,118.2 L773.7,117.2 L773.7,116.2 L773.7,115.2 L773.7,114.2 L773.7,113.2 L773.7,112.2 L773.7,111.2 L773.7,110.2 L773.7,109.2 L773.7,108.2 L773.7,107.2 L773.7,106.2 L773.7,105.2 L773.7,104.2 L773.7,103.2 L773.7,102.2 L773.7,101.2 L773.7,100.2 L773.7,99.2 L773.7,98.2 L773.7,97.2 L773.7,96.2 L773.7,95.2 L773.7,94.2 L773.7,93.2 L773.7,92.2 L773.7,91.2 L773.7,90.2 L773.7,89.2 L773.7,88.2 L773.7,87.2 L773.7,86.2 L773.7,85.2 L773.7,84.2 L773.7,83.2 L773.7,82.2 L773.7,81.2 L773.7,80.2 L773.7,79.2 L773.7,78.2 L773.7,77.2 Z" fill="#ffffff" stroke="#6e6e6e" stroke-width="3.2" stroke-linejoin="round"/>
<path d="M869.0,70.9 L869.0,71.9 L869.0,72.9 L869.0,73.9 L869.0,74.9 L869.0,75.9 L869.0,76.9 L869.0,77.9 L869.0,78.9 L869.0,79.9 L869.0,80.9 L869.0,81.9 L869.0,82.9 L869.0,83.9 L869.0,84.9 L869.0,85.9 L869.0,86.9 L869.0,87.9 L869.0,88.9 L869.0,89.9 L869.0,90.9 L869.0,91.9 L869.0,92.9 L869.0,93.9 L869.0,94.9 L869.1,95.9 L869.1,96.9 L869.1,97.9 L869.1,98.9 L869.1,99.9 L869.1,100.9 L869.1,101.9 L869.1,102.9 L869.1,103.9 L869.1,104.9 L869.1,105.9 L869.1,106.9 L869.1,107.9 L869.1,108.9 L869.1,109.9 L869.1,110.9 L869.1,111.9 L869.1,112.9 L869.1,113.9 L869.1,114.9 L869.1,115.9 L869.1,116.9 L869.1,117.9 L869.1,118.9 L869.1,119.9 L869.1,120.9 L869.1,121.9 L869.1,122.9 L869.1,123.9 L869.1,124.9 L869.1,125.9 L869.1,126.9 L869.1,127.9 L869.1,128.9 L869.2,129.9 L869.2,130.9 L869.2,131.9 L869.2,132.9 L869.2,133.9 L869.2,134.9 L869.2,135.9 L869.2,136.9 L869.2,137.9 L869.2,138.9 L869.2,139.9 L869.2,140.9 L869.3,141.9 L869.3,142.9 L869.3,143.9 L869.3,144.9 L869.3,145.9 L869.3,146.9 L869.4,147.9 L869.4,148.9 L869.4,149.9 L869.4,150.9 L869.4,151.9 L869.4,152.9 L869.5,153.9 L869.5,154.9 L869.5,155.9 L869.5,156.9 L869.5,157.9 L869.5,158.9 L869.6,159.9 L869.6,160.9 L869.6,161.9 L869.6,162.9 L869.6,163.9 L869.7,164.9 L869.7,165.9 L869.7,166.9 L869.7,167.9 L869.7,168.9 L869.7,169.9 L869.8,170.9 L869.8,171.9 L869.8,172.9 L869.8,173.9 L869.8,174.9 L869.9,175.9 L869.9,176.9 L869.9,177.9 L869.9,178.9 L869.9,179.9 L870.0,180.9 L870.0,181.9 L870.0,182.9 L870.0,183.9 L870.0,184.9 L870.1,185.9 L870.1,186.9 L870.1,187.9 L870.1,188.9 L870.1,189.9 L870.2,190.9 L870.2,191.9 L870.2,192.9 L870.2,193.9 L870.2,194.9 L870.3,195.9 L870.3,196.9 L870.3,197.9 L870.3,198.9 L870.3,199.9 L870.4,200.9 L870.4,201.9 L870.4,202.9 L870.4,203.9 L870.5,204.9 L870.5,205.9 L870.5,206.9 L870.5,207.9 L870.5,208.9 L870.6,209.9 L870.6,210.9 L870.6,211.9 L870.7,212.9 L870.7,213.9 L870.8,214.9 L870.8,215.9 L870.9,216.9 L870.9,217.9 L871.0,218.9 L871.1,219.9 L871.1,220.9 L871.2,221.9 L871.3,222.9 L871.4,223.9 L871.4,224.9 L871.5,225.9 L871.6,226.9 L871.7,227.9 L871.8,228.9 L871.9,229.9 L872.0,230.9 L872.0,231.9 L872.1,232.9 L872.2,233.9 L872.3,234.9 L872.4,235.9 L872.5,236.9 L872.5,237.9 L872.6,238.9 L872.7,239.9 L872.7,240.9 L872.8,241.9 L872.9,242.9 L873.0,243.9 L873.0,244.9 L873.1,245.9 L873.2,246.9 L873.3,247.9 L873.3,248.9 L873.4,249.9 L873.5,250.9 L873.5,251.9 L873.6,252.9 L873.7,253.9 L873.8,254.9 L873.8,255.9 L873.9,256.9 L874.0,257.9 L874.1,258.9 L874.1,259.9 L874.2,260.9 L874.3,261.9 L874.4,262.9 L874.5,263.9 L874.5,264.9 L874.6,265.9 L874.7,266.9 L874.8,267.9 L874.9,268.9 L875.0,269.9 L875.1,270.9 L875.2,271.9 L875.2,272.9 L875.3,273.9 L875.4,274.9 L875.5,275.9 L875.6,276.9 L875.7,277.9 L875.8,278.9 L875.9,279.9 L875.9,280.9 L876.0,281.9 L876.1,282.9 L876.2,283.9 L876.3,284.9 L876.3,285.9 L876.4,286.9 L876.5,287.9 L876.5,288.9 L876.6,289.9 L876.6,290.9 L876.7,291.9 L876.8,292.9 L876.8,293.9 L876.9,294.9 L876.9,295.9 L877.0,296.9 L877.0,297.9 L877.1,298.9 L877.1,299.9 L877.2,300.9 L877.3,301.9 L877.3,302.9 L877.4,303.9 L877.5,304.9 L877.6,305.9 L877.8,306.9 L877.9,307.9 L878.1,308.9 L878.3,309.9 L878.5,310.9 L878.7,311.9 L878.9,312.9 L879.2,313.9 L879.4,314.9 L879.6,315.9 L879.9,316.9 L880.1,317.9 L880.3,318.9 L880.6,319.9 L880.9,320.9 L881.1,321.9 L881.4,322.9 L881.6,323.9 L881.9,324.9 L882.2,325.9 L882.4,326.9 L882.7,327.9 L882.9,328.9 L883.1,329.9 L883.3,330.9 L883.5,331.9 L883.6,332.9 L883.8,333.9 L884.0,334.9 L884.1,335.9 L884.3,336.9 L884.4,337.9 L884.6,338.9 L884.8,339.9 L885.0,340.9 L885.2,341.9 L885.4,342.9 L885.6,343.9 L885.9,344.9 L886.2,345.9 L886.5,346.9 L886.9,347.9 L887.2,348.9 L887.5,349.9 L887.9,350.9 L888.2,351.9 L888.6,352.9 L889.0,353.9 L889.3,354.9 L889.7,355.9 L890.0,356.9 L890.4,357.9 L890.8,358.9 L891.1,359.9 L891.5,360.9 L891.9,361.9 L892.2,362.9 L892.6,363.9 L892.9,364.9 L893.2,365.9 L893.5,366.9 L893.8,367.9 L894.1,368.9 L894.4,369.9 L894.7,370.9 L894.9,371.9 L895.2,372.9 L895.4,373.9 L895.7,374.9 L895.9,375.9 L896.1,376.9 L896.4,377.9 L896.6,378.9 L896.8,379.9 L897.0,380.9 L897.2,381.9 L897.4,382.9 L897.6,383.9 L897.8,384.9 L898.0,385.9 L898.3,386.9 L898.5,387.9 L898.7,388.9 L899.0,389.9 L899.4,390.9 L899.7,391.9 L900.2,392.9 L900.7,393.9 L901.2,394.9 L901.8,395.9 L902.4,396.9 L903.0,397.9 L903.6,398.9 L904.2,399.9 L904.8,400.9 L905.3,401.9 L905.8,402.9 L906.2,403.9 L906.6,404.9 L907.0,405.9 L907.4,406.9 L907.8,407.9 L908.2,408.9 L908.5,409.9 L908.9,410.9 L909.2,411.9 L909.4,412.9 L909.7,413.9 L909.9,414.9 L910.2,415.9 L910.4,416.9 L910.6,417.9 L910.8,418.9 L911.0,419.9 L911.2,420.9 L911.3,421.9 L911.5,422.9 L911.6,423.9 L911.7,424.9 L911.7,425.9 L911.8,426.9 L911.8,427.9 L911.8,428.9 L911.7,429.9 L911.6,430.9 L911.5,431.9 L911.2,432.9 L910.9,433.9 L910.4,434.9 L909.7,435.9 L909.0,436.9 L908.2,437.9 L907.4,438.9 L906.5,439.9 L905.6,440.9 L904.7,441.9 L903.8,442.9 L902.8,443.9 L901.8,444.9 L900.8,445.9 L899.8,446.9 L898.9,447.9 L897.9,448.9 L897.0,449.9 L896.1,450.9 L895.3,451.9 L894.6,452.9 L893.9,453.9 L893.2,454.9 L892.5,455.9 L891.9,456.9 L891.3,457.9 L890.7,458.9 L890.2,459.9 L889.6,460.9 L889.1,461.9 L888.7,462.9 L888.3,463.9 L887.9,464.9 L887.5,465.9 L887.1,466.9 L886.8,467.9 L886.5,468.9 L886.2,469.9 L885.9,470.9 L885.6,471.9 L885.4,472.9 L885.1,473.9 L884.9,474.9 L884.7,475.9 L884.5,476.9 L884.3,477.9 L884.2,478.9 L884.0,479.9 L883.9,480.9 L883.8,481.9 L883.7,482.9 L883.6,483.9 L883.5,484.9 L883.4,485.9 L883.3,486.9 L883.2,487.9 L883.0,488.9 L882.9,489.9 L882.7,490.9 L882.5,491.9 L882.2,492.9 L881.9,493.9 L881.5,494.9 L881.0,495.9 L880.5,496.9 L879.9,497.9 L879.3,498.9 L878.7,499.9 L878.1,500.9 L877.5,501.9 L876.9,502.9 L876.3,503.9 L875.8,504.9 L875.3,505.9 L874.8,506.9 L874.3,507.9 L873.9,508.9 L873.4,509.9 L873.0,510.9 L872.6,511.9 L872.2,512.9 L871.9,513.9 L871.5,514.9 L871.2,515.9 L871.0,516.9 L870.7,517.9 L870.5,518.9 L870.3,519.9 L870.1,520.9 L869.9,521.9 L869.8,522.9 L869.7,523.9 L869.6,524.9 L869.5,525.9 L869.5,526.9 L869.5,527.9 L869.4,528.9 L869.4,529.9 L869.4,530.9 L869.4,531.9 L869.3,532.9 L869.3,533.9 L869.3,534.9 L869.3,535.9 L869.3,536.9 L869.3,537.9 L869.3,538.9 L869.3,539.9 L869.2,540.9 L869.2,541.9 L869.2,542.9 L869.2,543.9 L869.2,544.9 L869.2,545.9 L869.2,546.9 L869.2,547.9 L869.2,548.9 L869.2,549.9 L869.2,550.9 L869.2,551.9 L869.2,552.9 L869.1,553.9 L869.1,554.9 L869.1,555.9 L869.1,556.9 L869.1,557.9 L869.1,558.9 L869.1,559.9 L869.1,560.9 L869.1,561.0 L868.4,561.0 L868.4,560.9 L868.4,559.9 L868.4,558.9 L868.4,557.9 L868.4,556.9 L868.4,555.9 L868.4,554.9 L868.4,553.9 L868.3,552.9 L868.3,551.9 L868.3,550.9 L868.3,549.9 L868.3,548.9 L868.3,547.9 L868.3,546.9 L868.3,545.9 L868.3,544.9 L868.3,543.9 L868.3,542.9 L868.3,541.9 L868.3,540.9 L868.2,539.9 L868.2,538.9 L868.2,537.9 L868.2,536.9 L868.2,535.9 L868.2,534.9 L868.2,533.9 L868.2,532.9 L868.1,531.9 L868.1,530.9 L868.1,529.9 L868.1,528.9 L868.0,527.9 L868.0,526.9 L868.0,525.9 L867.9,524.9 L867.8,523.9 L867.7,522.9 L867.6,521.9 L867.4,520.9 L867.2,519.9 L867.0,518.9 L866.8,517.9 L866.5,516.9 L866.3,515.9 L866.0,514.9 L865.6,513.9 L865.3,512.9 L864.9,511.9 L864.5,510.9 L864.1,509.9 L863.6,508.9 L863.2,507.9 L862.7,506.9 L862.2,505.9 L861.7,504.9 L861.2,503.9 L860.6,502.9 L860.0,501.9 L859.4,500.9 L858.8,499.9 L858.2,498.9 L857.6,497.9 L857.0,496.9 L856.5,495.9 L856.0,494.9 L855.6,493.9 L855.3,492.9 L855.0,491.9 L854.8,490.9 L854.6,489.9 L854.5,488.9 L854.3,487.9 L854.2,486.9 L854.1,485.9 L854.0,484.9 L853.9,483.9 L853.8,482.9 L853.7,481.9 L853.6,480.9 L853.5,479.9 L853.3,478.9 L853.2,477.9 L853.0,476.9 L852.8,475.9 L852.6,474.9 L852.4,473.9 L852.1,472.9 L851.9,471.9 L851.6,470.9 L851.3,469.9 L851.0,468.9 L850.7,467.9 L850.4,466.9 L850.0,465.9 L849.6,464.9 L849.2,463.9 L848.8,462.9 L848.4,461.9 L847.9,460.9 L847.3,459.9 L846.8,458.9 L846.2,457.9 L845.6,456.9 L845.0,455.9 L844.3,454.9 L843.6,453.9 L842.9,452.9 L842.2,451.9 L841.4,450.9 L840.5,449.9 L839.6,448.9 L838.6,447.9 L837.7,446.9 L836.7,445.9 L835.7,444.9 L834.7,443.9 L833.7,442.9 L832.8,441.9 L831.9,440.9 L831.0,439.9 L830.1,438.9 L829.3,437.9 L828.5,436.9 L827.8,435.9 L827.1,434.9 L826.6,433.9 L826.3,432.9 L826.0,431.9 L825.9,430.9 L825.8,429.9 L825.7,428.9 L825.7,427.9 L825.7,426.9 L825.8,425.9 L825.8,424.9 L825.9,423.9 L826.0,422.9 L826.2,421.9 L826.3,420.9 L826.5,419.9 L826.7,418.9 L826.9,417.9 L827.1,416.9 L827.3,415.9 L827.6,414.9 L827.8,413.9 L828.1,412.9 L828.3,411.9 L828.6,410.9 L829.0,409.9 L829.3,408.9 L829.7,407.9 L830.1,406.9 L830.5,405.9 L830.9,404.9 L831.3,403.9 L831.7,402.9 L832.2,401.9 L832.7,400.9 L833.3,399.9 L833.9,398.9 L834.5,397.9 L835.1,396.9 L835.7,395.9 L836.3,394.9 L836.8,393.9 L837.3,392.9 L837.8,391.9 L838.1,390.9 L838.5,389.9 L838.8,388.9 L839.0,387.9 L839.2,386.9 L839.5,385.9 L839.7,384.9 L839.9,383.9 L840.1,382.9 L840.3,381.9 L840.5,380.9 L840.7,379.9 L840.9,378.9 L841.1,377.9 L841.4,376.9 L841.6,375.9 L841.8,374.9 L842.1,373.9 L842.3,372.9 L842.6,371.9 L842.8,370.9 L843.1,369.9 L843.4,368.9 L843.7,367.9 L844.0,366.9 L844.3,365.9 L844.6,364.9 L844.9,363.9 L845.3,362.9 L845.6,361.9 L846.0,360.9 L846.4,359.9 L846.7,358.9 L847.1,357.9 L847.5,356.9 L847.8,355.9 L848.2,354.9 L848.5,353.9 L848.9,352.9 L849.3,351.9 L849.6,350.9 L850.0,349.9 L850.3,348.9 L850.6,347.9 L851.0,346.9 L851.3,345.9 L851.6,344.9 L851.9,343.9 L852.1,342.9 L852.3,341.9 L852.5,340.9 L852.7,339.9 L852.9,338.9 L853.1,337.9 L853.2,336.9 L853.4,335.9 L853.5,334.9 L853.7,333.9 L853.9,332.9 L854.0,331.9 L854.2,330.9 L854.4,329.9 L854.6,328.9 L854.8,327.9 L855.1,326.9 L855.3,325.9 L855.6,324.9 L855.9,323.9 L856.1,322.9 L856.4,321.9 L856.6,320.9 L856.9,319.9 L857.2,318.9 L857.4,317.9 L857.6,316.9 L857.9,315.9 L858.1,314.9 L858.3,313.9 L858.6,312.9 L858.8,311.9 L859.0,310.9 L859.2,309.9 L859.4,308.9 L859.6,307.9 L859.7,306.9 L859.9,305.9 L860.0,304.9 L860.1,303.9 L860.2,302.9 L860.2,301.9 L860.3,300.9 L860.4,299.9 L860.4,298.9 L860.5,297.9 L860.5,296.9 L860.6,295.9 L860.6,294.9 L860.7,293.9 L860.7,292.9 L860.8,291.9 L860.9,290.9 L860.9,289.9 L861.0,288.9 L861.0,287.9 L861.1,286.9 L861.2,285.9 L861.2,284.9 L861.3,283.9 L861.4,282.9 L861.5,281.9 L861.6,280.9 L861.6,279.9 L861.7,278.9 L861.8,277.9 L861.9,276.9 L862.0,275.9 L862.1,274.9 L862.2,273.9 L862.3,272.9 L862.3,271.9 L862.4,270.9 L862.5,269.9 L862.6,268.9 L862.7,267.9 L862.8,266.9 L862.9,265.9 L863.0,264.9 L863.0,263.9 L863.1,262.9 L863.2,261.9 L863.3,260.9 L863.4,259.9 L863.4,258.9 L863.5,257.9 L863.6,256.9 L863.7,255.9 L863.7,254.9 L863.8,253.9 L863.9,252.9 L864.0,251.9 L864.0,250.9 L864.1,249.9 L864.2,248.9 L864.2,247.9 L864.3,246.9 L864.4,245.9 L864.5,244.9 L864.5,243.9 L864.6,242.9 L864.7,241.9 L864.8,240.9 L864.8,239.9 L864.9,238.9 L865.0,237.9 L865.0,236.9 L865.1,235.9 L865.2,234.9 L865.3,233.9 L865.4,232.9 L865.5,231.9 L865.5,230.9 L865.6,229.9 L865.7,228.9 L865.8,227.9 L865.9,226.9 L866.0,225.9 L866.1,224.9 L866.1,223.9 L866.2,222.9 L866.3,221.9 L866.4,220.9 L866.4,219.9 L866.5,218.9 L866.6,217.9 L866.6,216.9 L866.7,215.9 L866.7,214.9 L866.8,213.9 L866.8,212.9 L866.9,211.9 L866.9,210.9 L866.9,209.9 L867.0,208.9 L867.0,207.9 L867.0,206.9 L867.0,205.9 L867.0,204.9 L867.1,203.9 L867.1,202.9 L867.1,201.9 L867.1,200.9 L867.2,199.9 L867.2,198.9 L867.2,197.9 L867.2,196.9 L867.2,195.9 L867.3,194.9 L867.3,193.9 L867.3,192.9 L867.3,191.9 L867.3,190.9 L867.4,189.9 L867.4,188.9 L867.4,187.9 L867.4,186.9 L867.4,185.9 L867.5,184.9 L867.5,183.9 L867.5,182.9 L867.5,181.9 L867.5,180.9 L867.6,179.9 L867.6,178.9 L867.6,177.9 L867.6,176.9 L867.6,175.9 L867.7,174.9 L867.7,173.9 L867.7,172.9 L867.7,171.9 L867.7,170.9 L867.8,169.9 L867.8,168.9 L867.8,167.9 L867.8,166.9 L867.8,165.9 L867.8,164.9 L867.9,163.9 L867.9,162.9 L867.9,161.9 L867.9,160.9 L867.9,159.9 L868.0,158.9 L868.0,157.9 L868.0,156.9 L868.0,155.9 L868.0,154.9 L868.0,153.9 L868.1,152.9 L868.1,151.9 L868.1,150.9 L868.1,149.9 L868.1,148.9 L868.1,147.9 L868.2,146.9 L868.2,145.9 L868.2,144.9 L868.2,143.9 L868.2,142.9 L868.2,141.9 L868.3,140.9 L868.3,139.9 L868.3,138.9 L868.3,137.9 L868.3,136.9 L868.3,135.9 L868.3,134.9 L868.3,133.9 L868.3,132.9 L868.3,131.9 L868.3,130.9 L868.3,129.9 L868.4,128.9 L868.4,127.9 L868.4,126.9 L868.4,125.9 L868.4,124.9 L868.4,123.9 L868.4,122.9 L868.4,121.9 L868.4,120.9 L868.4,119.9 L868.4,118.9 L868.4,117.9 L868.4,116.9 L868.4,115.9 L868.4,114.9 L868.4,113.9 L868.4,112.9 L868.4,111.9 L868.4,110.9 L868.4,109.9 L868.4,108.9 L868.4,107.9 L868.4,106.9 L868.4,105.9 L868.4,104.9 L868.4,103.9 L868.4,102.9 L868.4,101.9 L868.4,100.9 L868.4,99.9 L868.4,98.9 L868.4,97.9 L868.4,96.9 L868.4,95.9 L868.5,94.9 L868.5,93.9 L868.5,92.9 L868.5,91.9 L868.5,90.9 L868.5,89.9 L868.5,88.9 L868.5,87.9 L868.5,86.9 L868.5,85.9 L868.5,84.9 L868.5,83.9 L868.5,82.9 L868.5,81.9 L868.5,80.9 L868.5,79.9 L868.5,78.9 L868.5,77.9 L868.5,76.9 L868.5,75.9 L868.5,74.9 L868.5,73.9 L868.5,72.9 L868.5,71.9 L868.5,70.9 Z" fill="#ffffff" stroke="#6e6e6e" stroke-width="3.2" stroke-linejoin="round"/>
<line x1="622.5" y1="570.25" x2="925" y2="570.25" stroke="#161616" stroke-width="3.7"/>
<text x="597.5" y="35.75" font-size="34.3" text-anchor="end" font-weight="normal" fill="#000000" transform="translate(0 35.75) scale(1 0.975) translate(0 -35.75)">0</text>
<path d="M571.43,35.75 L571.43,12.51 L569.31,12.51 C568.83,15.18 567.18,17.09 564.50,17.29 L562.51,17.29 L562.51,19.43 L568.07,19.43 L568.07,35.75 Z" fill="#000000"/>
<text x="598.0" y="18.9" font-size="23.5" text-anchor="start" font-weight="normal" fill="#000000" transform="translate(0 18.9) scale(1 0.975) translate(0 -18.9)">5</text>
<text x="597.5" y="173.75" font-size="34.3" text-anchor="end" font-weight="normal" fill="#000000" transform="translate(0 173.75) scale(1 0.975) translate(0 -173.75)">0</text>
<path d="M571.43,173.75 L571.43,150.51 L569.31,150.51 C568.83,153.18 567.18,155.09 564.50,155.29 L562.51,155.29 L562.51,157.43 L568.07,157.43 L568.07,173.75 Z" fill="#000000"/>
<text x="598.0" y="156.9" font-size="23.5" text-anchor="start" font-weight="normal" fill="#000000" transform="translate(0 156.9) scale(1 0.975) translate(0 -156.9)">4</text>
<text x="597.5" y="311.5" font-size="34.3" text-anchor="end" font-weight="normal" fill="#000000" transform="translate(0 311.5) scale(1 0.975) translate(0 -311.5)">0</text>
<path d="M571.43,311.50 L571.43,288.26 L569.31,288.26 C568.83,290.93 567.18,292.84 564.50,293.04 L562.51,293.04 L562.51,295.18 L568.07,295.18 L568.07,311.50 Z" fill="#000000"/>
<text x="598.0" y="294.65" font-size="23.5" text-anchor="start" font-weight="normal" fill="#000000" transform="translate(0 294.65) scale(1 0.975) translate(0 -294.65)">3</text>
<text x="597.5" y="449.0" font-size="34.3" text-anchor="end" font-weight="normal" fill="#000000" transform="translate(0 449.0) scale(1 0.975) translate(0 -449.0)">0</text>
<path d="M571.43,449.00 L571.43,425.76 L569.31,425.76 C568.83,428.43 567.18,430.34 564.50,430.54 L562.51,430.54 L562.51,432.68 L568.07,432.68 L568.07,449.00 Z" fill="#000000"/>
<text x="598.0" y="432.15" font-size="23.5" text-anchor="start" font-weight="normal" fill="#000000" transform="translate(0 432.15) scale(1 0.975) translate(0 -432.15)">2</text>
<text x="597.5" y="586.5" font-size="34.3" text-anchor="end" font-weight="normal" fill="#000000" transform="translate(0 586.5) scale(1 0.975) translate(0 -586.5)">0</text>
<path d="M571.43,586.50 L571.43,563.26 L569.31,563.26 C568.83,565.93 567.18,567.84 564.50,568.04 L562.51,568.04 L562.51,570.18 L568.07,570.18 L568.07,586.50 Z" fill="#000000"/>
<path d="M606.27,569.65 L606.27,553.73 L604.82,553.73 C604.49,555.56 603.36,556.86 601.52,557.00 L600.16,557.00 L600.16,558.47 L603.97,558.47 L603.97,569.65 Z" fill="#000000"/>
<circle cx="679.25" cy="383.75" r="7.8" fill="#d18b12"/>
<text x="689.25" y="402.75" font-size="38" text-anchor="end" font-weight="normal" fill="#d18b12" transform="rotate(-90 689.25 402.75)">c</text>
<circle cx="774.0" cy="363.25" r="7.8" fill="#d18b12"/>
<text x="784.0" y="382.25" font-size="38" text-anchor="end" font-weight="normal" fill="#d18b12" transform="rotate(-90 784.0 382.25)">b</text>
<circle cx="868.75" cy="345.5" r="7.8" fill="#d18b12"/>
<text x="878.75" y="365.8" font-size="38" text-anchor="end" font-weight="normal" fill="#d18b12" transform="rotate(-90 878.75 365.8)">a</text>
<text x="704.25" y="592.0" font-size="34.3" text-anchor="end" font-weight="normal" fill="#000000" transform="rotate(-90 704.25 592.0)">0 h</text>
<text x="799.0" y="592.0" font-size="34.3" text-anchor="end" font-weight="normal" fill="#000000" transform="rotate(-90 799.0 592.0)">24 h</text>
<text x="893.75" y="592.0" font-size="34.3" text-anchor="end" font-weight="normal" fill="#000000" transform="rotate(-90 893.75 592.0)">72 h</text>
<text x="773.75" y="703.6" font-size="35.9" text-anchor="middle" font-weight="bold" fill="#000000">Stress duration</text>
<g transform="rotate(-90 533 295)"><text x="533" y="295" font-size="35.9" text-anchor="middle" font-weight="bold" fill="#000000">Area (nm<tspan font-size="23.5" font-weight="normal" dy="-17.5">2</tspan><tspan dy="17.5">)</tspan></text></g>
<text x="499.6" y="702.8" font-size="40" text-anchor="start" font-weight="normal" fill="#000000">b)</text>
<line x1="1110" y1="19.5" x2="1413" y2="19.5" stroke="#c5c5c5" stroke-width="3.3"/>
<line x1="1110" y1="157.25" x2="1413" y2="157.25" stroke="#c5c5c5" stroke-width="3.3"/>
<line x1="1110" y1="295.0" x2="1413" y2="295.0" stroke="#c5c5c5" stroke-width="3.3"/>
<line x1="1110" y1="432.5" x2="1413" y2="432.5" stroke="#c5c5c5" stroke-width="3.3"/>
<path d="M1209.5,19.5 L1208.6,20.5 L1207.2,21.5 L1205.3,22.5 L1202.8,23.5 L1199.9,24.5 L1196.7,25.5 L1193.4,26.5 L1190.2,27.5 L1187.2,28.5 L1184.6,29.5 L1182.3,30.5 L1180.4,31.5 L1179.0,32.5 L1177.9,33.5 L1177.1,34.5 L1176.7,35.5 L1176.4,36.5 L1176.2,37.5 L1176.1,38.5 L1176.1,39.5 L1176.1,40.5 L1176.0,41.5 L1176.0,42.5 L1175.9,43.5 L1175.9,44.5 L1175.8,45.5 L1175.8,46.5 L1175.8,47.5 L1175.7,48.5 L1175.7,49.5 L1175.7,50.5 L1175.6,51.5 L1175.5,52.5 L1175.4,53.5 L1175.3,54.5 L1175.1,55.5 L1174.9,56.5 L1174.7,57.5 L1174.5,58.5 L1174.3,59.5 L1174.0,60.5 L1173.8,61.5 L1173.6,62.5 L1173.4,63.5 L1173.2,64.5 L1173.1,65.5 L1172.9,66.5 L1172.8,67.5 L1172.7,68.5 L1172.6,69.5 L1172.5,70.5 L1172.4,71.5 L1172.3,72.5 L1172.2,73.5 L1172.1,74.5 L1172.1,75.5 L1172.0,76.5 L1171.9,77.5 L1171.8,78.5 L1171.8,79.5 L1171.7,80.5 L1171.7,81.5 L1171.6,82.5 L1171.6,83.5 L1171.5,84.5 L1171.4,85.5 L1171.4,86.5 L1171.3,87.5 L1171.3,88.5 L1171.2,89.5 L1171.2,90.5 L1171.1,91.5 L1171.0,92.5 L1171.0,93.5 L1170.9,94.5 L1170.8,95.5 L1170.7,96.5 L1170.7,97.5 L1170.6,98.5 L1170.5,99.5 L1170.5,100.5 L1170.4,101.5 L1170.3,102.5 L1170.3,103.5 L1170.2,104.5 L1170.2,105.5 L1170.1,106.5 L1170.0,107.5 L1170.0,108.5 L1169.9,109.5 L1169.9,110.5 L1169.8,111.5 L1169.8,112.5 L1169.7,113.5 L1169.7,114.5 L1169.6,115.5 L1169.6,116.5 L1169.5,117.5 L1169.5,118.5 L1169.4,119.5 L1169.4,120.5 L1169.3,121.5 L1169.3,122.5 L1169.3,123.5 L1169.2,124.5 L1169.2,125.5 L1169.2,126.5 L1169.1,127.5 L1169.1,128.5 L1169.1,129.5 L1169.1,130.5 L1169.1,131.5 L1169.1,132.5 L1169.0,133.5 L1169.0,134.5 L1169.0,135.5 L1169.0,136.5 L1169.0,137.5 L1169.0,138.5 L1169.0,139.5 L1168.9,140.5 L1168.9,141.5 L1168.9,142.5 L1168.9,143.5 L1168.9,144.5 L1168.9,145.5 L1168.9,146.5 L1168.8,147.5 L1168.8,148.5 L1168.8,149.5 L1168.8,150.5 L1168.8,151.5 L1168.8,152.5 L1168.7,153.5 L1168.7,154.5 L1168.7,155.5 L1168.7,156.5 L1168.7,157.5 L1168.6,158.5 L1168.6,159.5 L1168.6,160.5 L1168.6,161.5 L1168.5,162.5 L1168.5,163.5 L1168.5,164.5 L1168.5,165.5 L1168.5,166.5 L1168.4,167.5 L1168.4,168.5 L1168.4,169.5 L1168.4,170.5 L1168.4,171.5 L1168.3,172.5 L1168.3,173.5 L1168.3,174.5 L1168.3,175.5 L1168.3,176.5 L1168.2,177.5 L1168.2,178.5 L1168.2,179.5 L1168.2,180.5 L1168.2,181.5 L1168.2,182.5 L1168.1,183.5 L1168.1,184.5 L1168.1,185.5 L1168.1,186.5 L1168.1,187.5 L1168.1,188.5 L1168.1,189.5 L1168.0,190.5 L1168.0,191.5 L1168.0,192.5 L1168.0,193.5 L1168.0,194.5 L1168.0,195.5 L1168.0,196.5 L1167.9,197.5 L1167.9,198.5 L1167.9,199.5 L1167.9,200.5 L1167.9,201.5 L1167.9,202.5 L1167.9,203.5 L1167.8,204.5 L1167.8,205.5 L1167.8,206.5 L1167.8,207.5 L1167.8,208.5 L1167.8,209.5 L1167.8,210.5 L1167.8,211.5 L1167.8,212.5 L1167.7,213.5 L1167.7,214.5 L1167.7,215.5 L1167.7,216.5 L1167.7,217.5 L1167.7,218.5 L1167.7,219.5 L1167.7,220.5 L1167.7,221.5 L1167.7,222.5 L1167.6,223.5 L1167.6,224.5 L1167.6,225.5 L1167.6,226.5 L1167.6,227.5 L1167.6,228.5 L1167.6,229.5 L1167.6,230.5 L1167.6,231.5 L1167.6,232.5 L1167.6,233.5 L1167.5,234.5 L1167.5,235.5 L1167.5,236.5 L1167.5,237.5 L1167.5,238.5 L1167.5,239.5 L1167.5,240.5 L1167.5,241.5 L1167.5,242.5 L1167.5,243.5 L1167.5,244.5 L1167.5,245.5 L1167.5,246.5 L1167.4,247.5 L1167.4,248.5 L1167.4,249.5 L1167.4,250.5 L1167.4,251.5 L1167.4,252.5 L1167.4,253.5 L1167.4,254.5 L1167.4,255.5 L1167.4,256.5 L1167.4,257.5 L1167.4,258.5 L1167.4,259.5 L1167.4,260.5 L1167.3,261.5 L1167.3,262.5 L1167.3,263.5 L1167.3,264.5 L1167.3,265.5 L1167.3,266.5 L1167.3,267.5 L1167.3,268.5 L1167.3,269.5 L1167.3,270.5 L1167.3,271.5 L1167.3,272.5 L1167.3,273.5 L1167.2,274.5 L1167.2,275.5 L1167.2,276.5 L1167.2,277.5 L1167.2,278.5 L1167.2,279.5 L1167.2,280.5 L1167.2,281.5 L1167.2,282.5 L1167.2,283.5 L1167.2,284.5 L1167.2,285.5 L1167.1,286.5 L1167.1,287.5 L1167.1,288.5 L1167.1,289.5 L1167.1,290.5 L1167.1,291.5 L1167.1,292.5 L1167.1,293.5 L1167.1,294.5 L1167.1,295.5 L1167.1,296.5 L1167.1,297.5 L1167.1,298.5 L1167.1,299.5 L1167.1,300.5 L1167.1,301.5 L1167.1,302.5 L1167.1,303.5 L1167.1,304.5 L1167.1,305.5 L1167.1,306.5 L1167.1,307.5 L1167.0,308.5 L1167.0,309.5 L1167.0,310.5 L1167.0,311.5 L1167.0,312.5 L1167.0,313.5 L1167.0,314.5 L1167.0,315.5 L1167.0,316.5 L1167.0,317.5 L1167.0,318.5 L1167.0,319.5 L1167.0,320.5 L1167.0,321.5 L1167.0,322.5 L1167.0,323.5 L1167.0,324.5 L1167.0,325.5 L1167.0,326.5 L1167.0,327.5 L1167.0,328.5 L1167.0,329.5 L1167.0,330.5 L1167.0,331.5 L1167.0,332.5 L1167.0,333.5 L1167.0,334.5 L1167.0,335.5 L1167.0,336.5 L1167.0,337.5 L1166.9,338.5 L1166.9,339.5 L1166.9,340.5 L1166.9,341.5 L1166.9,342.5 L1166.9,343.5 L1166.9,344.5 L1166.9,345.5 L1166.9,346.5 L1166.9,347.5 L1166.9,348.5 L1166.9,349.5 L1166.9,350.5 L1166.9,351.5 L1166.9,352.5 L1166.9,353.5 L1166.9,354.5 L1166.9,355.5 L1166.9,356.5 L1166.9,357.5 L1166.9,358.5 L1166.9,359.5 L1166.9,360.5 L1166.9,361.5 L1166.9,362.5 L1166.9,363.5 L1166.9,364.5 L1166.9,365.5 L1166.9,366.5 L1166.9,367.5 L1166.9,368.5 L1166.9,369.5 L1166.9,370.5 L1166.9,371.5 L1166.9,372.5 L1166.9,373.5 L1166.9,374.5 L1166.9,375.5 L1166.9,376.5 L1166.9,377.5 L1166.9,378.5 L1166.9,379.5 L1166.9,380.5 L1166.9,381.5 L1166.9,382.5 L1166.9,383.5 L1166.9,384.5 L1166.9,385.5 L1166.9,386.5 L1166.9,387.5 L1166.9,388.5 L1166.9,389.5 L1166.8,390.5 L1166.8,391.5 L1166.8,392.5 L1166.8,393.5 L1166.8,394.5 L1166.8,395.5 L1166.8,396.5 L1166.8,397.5 L1166.8,398.5 L1166.8,399.5 L1166.8,400.5 L1166.8,401.5 L1166.8,402.5 L1166.8,403.5 L1166.8,404.5 L1166.8,405.5 L1166.8,406.5 L1166.8,407.5 L1166.8,408.5 L1166.8,409.5 L1166.8,410.5 L1166.8,411.5 L1166.8,412.5 L1166.8,413.5 L1166.8,414.5 L1166.8,415.5 L1166.8,416.5 L1166.8,417.5 L1166.8,418.5 L1166.8,419.5 L1166.8,420.5 L1166.8,421.5 L1166.8,422.5 L1166.8,423.5 L1166.8,424.5 L1166.8,425.5 L1166.8,426.5 L1166.8,427.5 L1166.8,428.5 L1166.8,429.5 L1166.8,430.5 L1166.8,431.5 L1166.8,432.5 L1166.8,433.5 L1166.8,434.5 L1166.8,435.5 L1166.8,436.5 L1166.8,437.5 L1166.8,438.5 L1166.8,439.5 L1166.8,440.5 L1166.8,441.5 L1166.8,442.5 L1166.8,443.5 L1166.8,444.5 L1166.8,445.5 L1166.8,446.5 L1166.8,447.5 L1166.8,448.5 L1166.8,449.5 L1166.8,450.5 L1166.8,451.5 L1166.8,452.5 L1166.8,453.5 L1166.8,454.5 L1166.8,455.5 L1166.8,456.5 L1166.8,457.5 L1166.8,458.5 L1166.8,459.5 L1166.8,460.5 L1166.8,461.5 L1166.8,462.5 L1166.8,463.5 L1166.8,464.5 L1166.8,465.5 L1166.8,466.5 L1166.8,467.5 L1166.8,468.5 L1166.8,469.5 L1166.8,470.5 L1166.8,471.5 L1166.8,472.5 L1166.8,473.5 L1166.8,474.5 L1166.8,475.5 L1166.8,476.5 L1166.8,477.5 L1166.8,478.5 L1166.8,479.5 L1166.8,480.5 L1166.8,481.5 L1166.8,482.5 L1166.8,483.5 L1166.8,484.5 L1166.8,485.5 L1166.8,486.5 L1166.8,487.5 L1166.8,488.5 L1166.8,489.5 L1166.8,490.5 L1166.8,491.5 L1166.8,492.3 L1166.4,492.3 L1166.4,491.5 L1166.4,490.5 L1166.4,489.5 L1166.4,488.5 L1166.4,487.5 L1166.4,486.5 L1166.4,485.5 L1166.4,484.5 L1166.4,483.5 L1166.4,482.5 L1166.4,481.5 L1166.4,480.5 L1166.4,479.5 L1166.4,478.5 L1166.4,477.5 L1166.4,476.5 L1166.4,475.5 L1166.4,474.5 L1166.4,473.5 L1166.4,472.5 L1166.4,471.5 L1166.4,470.5 L1166.4,469.5 L1166.4,468.5 L1166.4,467.5 L1166.4,466.5 L1166.4,465.5 L1166.4,464.5 L1166.4,463.5 L1166.4,462.5 L1166.4,461.5 L1166.4,460.5 L1166.4,459.5 L1166.4,458.5 L1166.4,457.5 L1166.4,456.5 L1166.4,455.5 L1166.4,454.5 L1166.4,453.5 L1166.4,452.5 L1166.4,451.5 L1166.4,450.5 L1166.4,449.5 L1166.4,448.5 L1166.4,447.5 L1166.4,446.5 L1166.4,445.5 L1166.4,444.5 L1166.4,443.5 L1166.4,442.5 L1166.4,441.5 L1166.4,440.5 L1166.4,439.5 L1166.4,438.5 L1166.4,437.5 L1166.4,436.5 L1166.4,435.5 L1166.4,434.5 L1166.4,433.5 L1166.4,432.5 L1166.4,431.5 L1166.4,430.5 L1166.4,429.5 L1166.4,428.5 L1166.4,427.5 L1166.4,426.5 L1166.4,425.5 L1166.4,424.5 L1166.4,423.5 L1166.4,422.5 L1166.4,421.5 L1166.4,420.5 L1166.4,419.5 L1166.4,418.5 L1166.4,417.5 L1166.4,416.5 L1166.4,415.5 L1166.4,414.5 L1166.4,413.5 L1166.4,412.5 L1166.4,411.5 L1166.4,410.5 L1166.4,409.5 L1166.4,408.5 L1166.4,407.5 L1166.4,406.5 L1166.4,405.5 L1166.4,404.5 L1166.4,403.5 L1166.4,402.5 L1166.4,401.5 L1166.4,400.5 L1166.4,399.5 L1166.4,398.5 L1166.4,397.5 L1166.4,396.5 L1166.4,395.5 L1166.4,394.5 L1166.4,393.5 L1166.4,392.5 L1166.4,391.5 L1166.4,390.5 L1166.3,389.5 L1166.3,388.5 L1166.3,387.5 L1166.3,386.5 L1166.3,385.5 L1166.3,384.5 L1166.3,383.5 L1166.3,382.5 L1166.3,381.5 L1166.3,380.5 L1166.3,379.5 L1166.3,378.5 L1166.3,377.5 L1166.3,376.5 L1166.3,375.5 L1166.3,374.5 L1166.3,373.5 L1166.3,372.5 L1166.3,371.5 L1166.3,370.5 L1166.3,369.5 L1166.3,368.5 L1166.3,367.5 L1166.3,366.5 L1166.3,365.5 L1166.3,364.5 L1166.3,363.5 L1166.3,362.5 L1166.3,361.5 L1166.3,360.5 L1166.3,359.5 L1166.3,358.5 L1166.3,357.5 L1166.3,356.5 L1166.3,355.5 L1166.3,354.5 L1166.3,353.5 L1166.3,352.5 L1166.3,351.5 L1166.3,350.5 L1166.3,349.5 L1166.3,348.5 L1166.3,347.5 L1166.3,346.5 L1166.3,345.5 L1166.3,344.5 L1166.3,343.5 L1166.3,342.5 L1166.3,341.5 L1166.3,340.5 L1166.3,339.5 L1166.3,338.5 L1166.2,337.5 L1166.2,336.5 L1166.2,335.5 L1166.2,334.5 L1166.2,333.5 L1166.2,332.5 L1166.2,331.5 L1166.2,330.5 L1166.2,329.5 L1166.2,328.5 L1166.2,327.5 L1166.2,326.5 L1166.2,325.5 L1166.2,324.5 L1166.2,323.5 L1166.2,322.5 L1166.2,321.5 L1166.2,320.5 L1166.2,319.5 L1166.2,318.5 L1166.2,317.5 L1166.2,316.5 L1166.2,315.5 L1166.2,314.5 L1166.2,313.5 L1166.2,312.5 L1166.2,311.5 L1166.2,310.5 L1166.2,309.5 L1166.2,308.5 L1166.1,307.5 L1166.1,306.5 L1166.1,305.5 L1166.1,304.5 L1166.1,303.5 L1166.1,302.5 L1166.1,301.5 L1166.1,300.5 L1166.1,299.5 L1166.1,298.5 L1166.1,297.5 L1166.1,296.5 L1166.1,295.5 L1166.1,294.5 L1166.1,293.5 L1166.1,292.5 L1166.1,291.5 L1166.1,290.5 L1166.1,289.5 L1166.1,288.5 L1166.1,287.5 L1166.1,286.5 L1166.0,285.5 L1166.0,284.5 L1166.0,283.5 L1166.0,282.5 L1166.0,281.5 L1166.0,280.5 L1166.0,279.5 L1166.0,278.5 L1166.0,277.5 L1166.0,276.5 L1166.0,275.5 L1166.0,274.5 L1165.9,273.5 L1165.9,272.5 L1165.9,271.5 L1165.9,270.5 L1165.9,269.5 L1165.9,268.5 L1165.9,267.5 L1165.9,266.5 L1165.9,265.5 L1165.9,264.5 L1165.9,263.5 L1165.9,262.5 L1165.9,261.5 L1165.8,260.5 L1165.8,259.5 L1165.8,258.5 L1165.8,257.5 L1165.8,256.5 L1165.8,255.5 L1165.8,254.5 L1165.8,253.5 L1165.8,252.5 L1165.8,251.5 L1165.8,250.5 L1165.8,249.5 L1165.8,248.5 L1165.8,247.5 L1165.7,246.5 L1165.7,245.5 L1165.7,244.5 L1165.7,243.5 L1165.7,242.5 L1165.7,241.5 L1165.7,240.5 L1165.7,239.5 L1165.7,238.5 L1165.7,237.5 L1165.7,236.5 L1165.7,235.5 L1165.7,234.5 L1165.6,233.5 L1165.6,232.5 L1165.6,231.5 L1165.6,230.5 L1165.6,229.5 L1165.6,228.5 L1165.6,227.5 L1165.6,226.5 L1165.6,225.5 L1165.6,224.5 L1165.6,223.5 L1165.5,222.5 L1165.5,221.5 L1165.5,220.5 L1165.5,219.5 L1165.5,218.5 L1165.5,217.5 L1165.5,216.5 L1165.5,215.5 L1165.5,214.5 L1165.5,213.5 L1165.4,212.5 L1165.4,211.5 L1165.4,210.5 L1165.4,209.5 L1165.4,208.5 L1165.4,207.5 L1165.4,206.5 L1165.4,205.5 L1165.4,204.5 L1165.3,203.5 L1165.3,202.5 L1165.3,201.5 L1165.3,200.5 L1165.3,199.5 L1165.3,198.5 L1165.3,197.5 L1165.2,196.5 L1165.2,195.5 L1165.2,194.5 L1165.2,193.5 L1165.2,192.5 L1165.2,191.5 L1165.2,190.5 L1165.1,189.5 L1165.1,188.5 L1165.1,187.5 L1165.1,186.5 L1165.1,185.5 L1165.1,184.5 L1165.1,183.5 L1165.0,182.5 L1165.0,181.5 L1165.0,180.5 L1165.0,179.5 L1165.0,178.5 L1165.0,177.5 L1164.9,176.5 L1164.9,175.5 L1164.9,174.5 L1164.9,173.5 L1164.9,172.5 L1164.8,171.5 L1164.8,170.5 L1164.8,169.5 L1164.8,168.5 L1164.8,167.5 L1164.7,166.5 L1164.7,165.5 L1164.7,164.5 L1164.7,163.5 L1164.7,162.5 L1164.6,161.5 L1164.6,160.5 L1164.6,159.5 L1164.6,158.5 L1164.5,157.5 L1164.5,156.5 L1164.5,155.5 L1164.5,154.5 L1164.5,153.5 L1164.4,152.5 L1164.4,151.5 L1164.4,150.5 L1164.4,149.5 L1164.4,148.5 L1164.4,147.5 L1164.3,146.5 L1164.3,145.5 L1164.3,144.5 L1164.3,143.5 L1164.3,142.5 L1164.3,141.5 L1164.3,140.5 L1164.2,139.5 L1164.2,138.5 L1164.2,137.5 L1164.2,136.5 L1164.2,135.5 L1164.2,134.5 L1164.2,133.5 L1164.1,132.5 L1164.1,131.5 L1164.1,130.5 L1164.1,129.5 L1164.1,128.5 L1164.1,127.5 L1164.0,126.5 L1164.0,125.5 L1164.0,124.5 L1163.9,123.5 L1163.9,122.5 L1163.9,121.5 L1163.8,120.5 L1163.8,119.5 L1163.7,118.5 L1163.7,117.5 L1163.6,116.5 L1163.6,115.5 L1163.5,114.5 L1163.5,113.5 L1163.4,112.5 L1163.4,111.5 L1163.3,110.5 L1163.3,109.5 L1163.2,108.5 L1163.2,107.5 L1163.1,106.5 L1163.0,105.5 L1163.0,104.5 L1162.9,103.5 L1162.9,102.5 L1162.8,101.5 L1162.7,100.5 L1162.7,99.5 L1162.6,98.5 L1162.5,97.5 L1162.5,96.5 L1162.4,95.5 L1162.3,94.5 L1162.2,93.5 L1162.2,92.5 L1162.1,91.5 L1162.0,90.5 L1162.0,89.5 L1161.9,88.5 L1161.9,87.5 L1161.8,86.5 L1161.8,85.5 L1161.7,84.5 L1161.6,83.5 L1161.6,82.5 L1161.5,81.5 L1161.5,80.5 L1161.4,79.5 L1161.4,78.5 L1161.3,77.5 L1161.2,76.5 L1161.1,75.5 L1161.1,74.5 L1161.0,73.5 L1160.9,72.5 L1160.8,71.5 L1160.7,70.5 L1160.6,69.5 L1160.5,68.5 L1160.4,67.5 L1160.3,66.5 L1160.1,65.5 L1160.0,64.5 L1159.8,63.5 L1159.6,62.5 L1159.4,61.5 L1159.2,60.5 L1158.9,59.5 L1158.7,58.5 L1158.5,57.5 L1158.3,56.5 L1158.1,55.5 L1157.9,54.5 L1157.8,53.5 L1157.7,52.5 L1157.6,51.5 L1157.5,50.5 L1157.5,49.5 L1157.5,48.5 L1157.4,47.5 L1157.4,46.5 L1157.4,45.5 L1157.3,44.5 L1157.3,43.5 L1157.2,42.5 L1157.2,41.5 L1157.1,40.5 L1157.1,39.5 L1157.1,38.5 L1157.0,37.5 L1156.8,36.5 L1156.5,35.5 L1156.1,34.5 L1155.3,33.5 L1154.2,32.5 L1152.8,31.5 L1150.9,30.5 L1148.6,29.5 L1146.0,28.5 L1143.0,27.5 L1139.8,26.5 L1136.5,25.5 L1133.3,24.5 L1130.4,23.5 L1127.9,22.5 L1126.0,21.5 L1124.6,20.5 L1123.7,19.5 Z" fill="#ffffff" stroke="#6e6e6e" stroke-width="3.2" stroke-linejoin="round"/>
<path d="M1289.2,19.5 L1288.8,20.5 L1288.3,21.5 L1287.6,22.5 L1286.8,23.5 L1285.9,24.5 L1284.8,25.5 L1283.7,26.5 L1282.6,27.5 L1281.6,28.5 L1280.8,29.5 L1280.1,30.5 L1279.6,31.5 L1279.3,32.5 L1279.2,33.5 L1279.3,34.5 L1279.5,35.5 L1279.7,36.5 L1280.0,37.5 L1280.3,38.5 L1280.5,39.5 L1280.5,40.5 L1280.3,41.5 L1280.1,42.5 L1279.7,43.5 L1279.2,44.5 L1278.6,45.5 L1278.0,46.5 L1277.4,47.5 L1276.8,48.5 L1276.1,49.5 L1275.5,50.5 L1274.8,51.5 L1274.1,52.5 L1273.5,53.5 L1272.9,54.5 L1272.3,55.5 L1271.7,56.5 L1271.2,57.5 L1270.6,58.5 L1270.2,59.5 L1269.7,60.5 L1269.3,61.5 L1268.8,62.5 L1268.5,63.5 L1268.1,64.5 L1267.7,65.5 L1267.4,66.5 L1267.1,67.5 L1266.9,68.5 L1266.7,69.5 L1266.5,70.5 L1266.4,71.5 L1266.3,72.5 L1266.2,73.5 L1266.1,74.5 L1266.0,75.5 L1266.0,76.5 L1265.9,77.5 L1265.8,78.5 L1265.8,79.5 L1265.7,80.5 L1265.7,81.5 L1265.6,82.5 L1265.5,83.5 L1265.5,84.5 L1265.4,85.5 L1265.3,86.5 L1265.3,87.5 L1265.2,88.5 L1265.2,89.5 L1265.1,90.5 L1265.0,91.5 L1265.0,92.5 L1264.9,93.5 L1264.9,94.5 L1264.8,95.5 L1264.8,96.5 L1264.7,97.5 L1264.7,98.5 L1264.6,99.5 L1264.6,100.5 L1264.5,101.5 L1264.5,102.5 L1264.5,103.5 L1264.4,104.5 L1264.4,105.5 L1264.4,106.5 L1264.4,107.5 L1264.3,108.5 L1264.3,109.5 L1264.3,110.5 L1264.2,111.5 L1264.2,112.5 L1264.2,113.5 L1264.2,114.5 L1264.1,115.5 L1264.1,116.5 L1264.1,117.5 L1264.1,118.5 L1264.0,119.5 L1264.0,120.5 L1264.0,121.5 L1264.0,122.5 L1263.9,123.5 L1263.9,124.5 L1263.9,125.5 L1263.9,126.5 L1263.8,127.5 L1263.8,128.5 L1263.8,129.5 L1263.7,130.5 L1263.7,131.5 L1263.7,132.5 L1263.7,133.5 L1263.6,134.5 L1263.6,135.5 L1263.6,136.5 L1263.6,137.5 L1263.5,138.5 L1263.5,139.5 L1263.5,140.5 L1263.5,141.5 L1263.4,142.5 L1263.4,143.5 L1263.4,144.5 L1263.4,145.5 L1263.4,146.5 L1263.3,147.5 L1263.3,148.5 L1263.3,149.5 L1263.3,150.5 L1263.3,151.5 L1263.3,152.5 L1263.3,153.5 L1263.3,154.5 L1263.3,155.5 L1263.2,156.5 L1263.2,157.5 L1263.2,158.5 L1263.2,159.5 L1263.2,160.5 L1263.2,161.5 L1263.2,162.5 L1263.2,163.5 L1263.2,164.5 L1263.2,165.5 L1263.2,166.5 L1263.2,167.5 L1263.2,168.5 L1263.2,169.5 L1263.2,170.5 L1263.2,171.5 L1263.2,172.5 L1263.2,173.5 L1263.1,174.5 L1263.1,175.5 L1263.1,176.5 L1263.1,177.5 L1263.1,178.5 L1263.1,179.5 L1263.1,180.5 L1263.1,181.5 L1263.1,182.5 L1263.1,183.5 L1263.0,184.5 L1263.0,185.5 L1263.0,186.5 L1263.0,187.5 L1263.0,188.5 L1262.9,189.5 L1262.9,190.5 L1262.9,191.5 L1262.9,192.5 L1262.9,193.5 L1262.8,194.5 L1262.8,195.5 L1262.8,196.5 L1262.8,197.5 L1262.7,198.5 L1262.7,199.5 L1262.7,200.5 L1262.7,201.5 L1262.6,202.5 L1262.6,203.5 L1262.6,204.5 L1262.6,205.5 L1262.5,206.5 L1262.5,207.5 L1262.5,208.5 L1262.5,209.5 L1262.5,210.5 L1262.4,211.5 L1262.4,212.5 L1262.4,213.5 L1262.4,214.5 L1262.4,215.5 L1262.4,216.5 L1262.4,217.5 L1262.3,218.5 L1262.3,219.5 L1262.3,220.5 L1262.3,221.5 L1262.3,222.5 L1262.3,223.5 L1262.3,224.5 L1262.3,225.5 L1262.3,226.5 L1262.3,227.5 L1262.3,228.5 L1262.3,229.5 L1262.3,230.5 L1262.2,231.5 L1262.2,232.5 L1262.2,233.5 L1262.2,234.5 L1262.2,235.5 L1262.2,236.5 L1262.2,237.5 L1262.2,238.5 L1262.2,239.5 L1262.2,240.5 L1262.2,241.5 L1262.2,242.5 L1262.2,243.5 L1262.2,244.5 L1262.2,245.5 L1262.2,246.5 L1262.2,247.5 L1262.2,248.5 L1262.2,249.5 L1262.1,250.5 L1262.1,251.5 L1262.1,252.5 L1262.1,253.5 L1262.1,254.5 L1262.1,255.5 L1262.1,256.5 L1262.1,257.5 L1262.1,258.5 L1262.1,259.5 L1262.1,260.5 L1262.1,261.5 L1262.1,262.5 L1262.1,263.5 L1262.1,264.5 L1262.1,265.5 L1262.1,266.5 L1262.0,267.5 L1262.0,268.5 L1262.0,269.5 L1262.0,270.5 L1262.0,271.5 L1262.0,272.5 L1262.0,273.5 L1262.0,274.5 L1262.0,275.5 L1262.0,276.5 L1262.0,277.5 L1261.9,278.5 L1261.9,279.5 L1261.9,280.5 L1261.9,281.5 L1261.9,282.5 L1261.9,283.5 L1261.9,284.5 L1261.9,285.5 L1261.9,286.5 L1261.9,287.5 L1261.8,288.5 L1261.8,289.5 L1261.8,290.5 L1261.8,291.5 L1261.8,292.5 L1261.8,293.5 L1261.8,294.5 L1261.8,295.5 L1261.8,296.5 L1261.8,297.5 L1261.8,298.5 L1261.8,299.5 L1261.8,300.5 L1261.8,301.5 L1261.8,302.5 L1261.8,303.5 L1261.8,304.5 L1261.8,305.5 L1261.8,306.5 L1261.7,307.5 L1261.7,308.5 L1261.7,309.5 L1261.7,310.5 L1261.7,311.5 L1261.7,312.5 L1261.7,313.5 L1261.7,314.5 L1261.7,315.5 L1261.7,316.5 L1261.7,317.5 L1261.7,318.5 L1261.7,319.5 L1261.7,320.5 L1261.7,321.5 L1261.7,322.5 L1261.7,323.5 L1261.7,324.5 L1261.7,325.5 L1261.7,326.5 L1261.7,327.5 L1261.7,328.5 L1261.7,329.5 L1261.7,330.5 L1261.7,331.5 L1261.7,332.5 L1261.7,333.5 L1261.7,334.5 L1261.7,335.5 L1261.7,336.5 L1261.7,337.5 L1261.7,338.5 L1261.6,339.5 L1261.6,340.5 L1261.6,341.5 L1261.6,342.5 L1261.6,343.5 L1261.6,344.5 L1261.6,345.5 L1261.6,346.5 L1261.6,347.5 L1261.6,348.5 L1261.6,349.5 L1261.6,350.5 L1261.6,351.5 L1261.6,352.5 L1261.6,353.5 L1261.6,354.5 L1261.6,355.5 L1261.6,356.5 L1261.6,357.5 L1261.6,358.5 L1261.6,359.5 L1261.6,360.5 L1261.6,361.5 L1261.6,362.5 L1261.6,363.5 L1261.6,364.5 L1261.6,365.5 L1261.6,366.5 L1261.6,367.5 L1261.6,368.5 L1261.6,369.5 L1261.6,370.5 L1261.6,371.5 L1261.6,372.5 L1261.6,373.5 L1261.6,374.5 L1261.6,375.5 L1261.6,376.5 L1261.6,377.5 L1261.6,378.5 L1261.6,379.5 L1261.6,380.5 L1261.6,381.5 L1261.6,382.5 L1261.6,383.5 L1261.6,384.5 L1261.6,385.5 L1261.6,386.5 L1261.6,387.5 L1261.6,388.5 L1261.6,389.5 L1261.5,390.5 L1261.5,391.5 L1261.5,392.5 L1261.5,393.5 L1261.5,394.5 L1261.5,395.5 L1261.5,396.5 L1261.5,397.5 L1261.5,398.5 L1261.5,399.5 L1261.5,400.5 L1261.5,401.5 L1261.5,402.5 L1261.5,403.5 L1261.5,404.5 L1261.5,405.5 L1261.5,406.5 L1261.5,407.5 L1261.5,408.5 L1261.5,409.5 L1261.5,410.5 L1261.5,411.5 L1261.5,412.5 L1261.5,413.5 L1261.5,414.5 L1261.5,415.5 L1261.5,416.5 L1261.5,417.5 L1261.5,418.5 L1261.5,419.5 L1261.5,420.5 L1261.5,421.5 L1261.5,422.5 L1261.5,423.5 L1261.5,424.5 L1261.5,425.5 L1261.5,426.5 L1261.5,427.5 L1261.5,428.5 L1261.5,429.5 L1261.5,430.5 L1261.5,431.5 L1261.5,432.5 L1261.5,433.5 L1261.5,434.5 L1261.5,435.5 L1261.5,436.5 L1261.5,437.5 L1261.5,438.5 L1261.5,439.5 L1261.5,440.5 L1261.5,441.5 L1261.5,442.5 L1261.5,443.5 L1261.5,444.5 L1261.5,445.5 L1261.5,446.5 L1261.5,447.5 L1261.5,448.5 L1261.5,449.5 L1261.5,450.5 L1261.5,451.5 L1261.5,452.5 L1261.5,453.5 L1261.5,454.5 L1261.5,455.5 L1261.5,456.5 L1261.5,457.5 L1261.5,458.5 L1261.5,459.5 L1261.5,460.5 L1261.5,461.5 L1261.5,462.5 L1261.5,463.5 L1261.5,464.5 L1261.5,465.5 L1261.5,466.5 L1261.5,466.8 L1261.1,466.8 L1261.1,466.5 L1261.1,465.5 L1261.1,464.5 L1261.1,463.5 L1261.1,462.5 L1261.1,461.5 L1261.1,460.5 L1261.1,459.5 L1261.1,458.5 L1261.1,457.5 L1261.1,456.5 L1261.1,455.5 L1261.1,454.5 L1261.1,453.5 L1261.1,452.5 L1261.1,451.5 L1261.1,450.5 L1261.1,449.5 L1261.1,448.5 L1261.1,447.5 L1261.1,446.5 L1261.1,445.5 L1261.1,444.5 L1261.1,443.5 L1261.1,442.5 L1261.1,441.5 L1261.1,440.5 L1261.1,439.5 L1261.1,438.5 L1261.1,437.5 L1261.1,436.5 L1261.1,435.5 L1261.1,434.5 L1261.1,433.5 L1261.1,432.5 L1261.1,431.5 L1261.1,430.5 L1261.1,429.5 L1261.1,428.5 L1261.1,427.5 L1261.1,426.5 L1261.1,425.5 L1261.1,424.5 L1261.1,423.5 L1261.1,422.5 L1261.1,421.5 L1261.1,420.5 L1261.1,419.5 L1261.1,418.5 L1261.1,417.5 L1261.1,416.5 L1261.1,415.5 L1261.1,414.5 L1261.1,413.5 L1261.1,412.5 L1261.1,411.5 L1261.1,410.5 L1261.1,409.5 L1261.1,408.5 L1261.1,407.5 L1261.1,406.5 L1261.1,405.5 L1261.1,404.5 L1261.1,403.5 L1261.1,402.5 L1261.1,401.5 L1261.1,400.5 L1261.1,399.5 L1261.1,398.5 L1261.1,397.5 L1261.1,396.5 L1261.1,395.5 L1261.1,394.5 L1261.1,393.5 L1261.1,392.5 L1261.1,391.5 L1261.1,390.5 L1261.0,389.5 L1261.0,388.5 L1261.0,387.5 L1261.0,386.5 L1261.0,385.5 L1261.0,384.5 L1261.0,383.5 L1261.0,382.5 L1261.0,381.5 L1261.0,380.5 L1261.0,379.5 L1261.0,378.5 L1261.0,377.5 L1261.0,376.5 L1261.0,375.5 L1261.0,374.5 L1261.0,373.5 L1261.0,372.5 L1261.0,371.5 L1261.0,370.5 L1261.0,369.5 L1261.0,368.5 L1261.0,367.5 L1261.0,366.5 L1261.0,365.5 L1261.0,364.5 L1261.0,363.5 L1261.0,362.5 L1261.0,361.5 L1261.0,360.5 L1261.0,359.5 L1261.0,358.5 L1261.0,357.5 L1261.0,356.5 L1261.0,355.5 L1261.0,354.5 L1261.0,353.5 L1261.0,352.5 L1261.0,351.5 L1261.0,350.5 L1261.0,349.5 L1261.0,348.5 L1261.0,347.5 L1261.0,346.5 L1261.0,345.5 L1261.0,344.5 L1261.0,343.5 L1261.0,342.5 L1261.0,341.5 L1261.0,340.5 L1261.0,339.5 L1260.9,338.5 L1260.9,337.5 L1260.9,336.5 L1260.9,335.5 L1260.9,334.5 L1260.9,333.5 L1260.9,332.5 L1260.9,331.5 L1260.9,330.5 L1260.9,329.5 L1260.9,328.5 L1260.9,327.5 L1260.9,326.5 L1260.9,325.5 L1260.9,324.5 L1260.9,323.5 L1260.9,322.5 L1260.9,321.5 L1260.9,320.5 L1260.9,319.5 L1260.9,318.5 L1260.9,317.5 L1260.9,316.5 L1260.9,315.5 L1260.9,314.5 L1260.9,313.5 L1260.9,312.5 L1260.9,311.5 L1260.9,310.5 L1260.9,309.5 L1260.9,308.5 L1260.9,307.5 L1260.8,306.5 L1260.8,305.5 L1260.8,304.5 L1260.8,303.5 L1260.8,302.5 L1260.8,301.5 L1260.8,300.5 L1260.8,299.5 L1260.8,298.5 L1260.8,297.5 L1260.8,296.5 L1260.8,295.5 L1260.8,294.5 L1260.8,293.5 L1260.8,292.5 L1260.8,291.5 L1260.8,290.5 L1260.8,289.5 L1260.8,288.5 L1260.7,287.5 L1260.7,286.5 L1260.7,285.5 L1260.7,284.5 L1260.7,283.5 L1260.7,282.5 L1260.7,281.5 L1260.7,280.5 L1260.7,279.5 L1260.7,278.5 L1260.6,277.5 L1260.6,276.5 L1260.6,275.5 L1260.6,274.5 L1260.6,273.5 L1260.6,272.5 L1260.6,271.5 L1260.6,270.5 L1260.6,269.5 L1260.6,268.5 L1260.6,267.5 L1260.5,266.5 L1260.5,265.5 L1260.5,264.5 L1260.5,263.5 L1260.5,262.5 L1260.5,261.5 L1260.5,260.5 L1260.5,259.5 L1260.5,258.5 L1260.5,257.5 L1260.5,256.5 L1260.5,255.5 L1260.5,254.5 L1260.5,253.5 L1260.5,252.5 L1260.5,251.5 L1260.5,250.5 L1260.4,249.5 L1260.4,248.5 L1260.4,247.5 L1260.4,246.5 L1260.4,245.5 L1260.4,244.5 L1260.4,243.5 L1260.4,242.5 L1260.4,241.5 L1260.4,240.5 L1260.4,239.5 L1260.4,238.5 L1260.4,237.5 L1260.4,236.5 L1260.4,235.5 L1260.4,234.5 L1260.4,233.5 L1260.4,232.5 L1260.4,231.5 L1260.3,230.5 L1260.3,229.5 L1260.3,228.5 L1260.3,227.5 L1260.3,226.5 L1260.3,225.5 L1260.3,224.5 L1260.3,223.5 L1260.3,222.5 L1260.3,221.5 L1260.3,220.5 L1260.3,219.5 L1260.3,218.5 L1260.2,217.5 L1260.2,216.5 L1260.2,215.5 L1260.2,214.5 L1260.2,213.5 L1260.2,212.5 L1260.2,211.5 L1260.1,210.5 L1260.1,209.5 L1260.1,208.5 L1260.1,207.5 L1260.1,206.5 L1260.0,205.5 L1260.0,204.5 L1260.0,203.5 L1260.0,202.5 L1259.9,201.5 L1259.9,200.5 L1259.9,199.5 L1259.9,198.5 L1259.8,197.5 L1259.8,196.5 L1259.8,195.5 L1259.8,194.5 L1259.7,193.5 L1259.7,192.5 L1259.7,191.5 L1259.7,190.5 L1259.7,189.5 L1259.6,188.5 L1259.6,187.5 L1259.6,186.5 L1259.6,185.5 L1259.6,184.5 L1259.5,183.5 L1259.5,182.5 L1259.5,181.5 L1259.5,180.5 L1259.5,179.5 L1259.5,178.5 L1259.5,177.5 L1259.5,176.5 L1259.5,175.5 L1259.5,174.5 L1259.4,173.5 L1259.4,172.5 L1259.4,171.5 L1259.4,170.5 L1259.4,169.5 L1259.4,168.5 L1259.4,167.5 L1259.4,166.5 L1259.4,165.5 L1259.4,164.5 L1259.4,163.5 L1259.4,162.5 L1259.4,161.5 L1259.4,160.5 L1259.4,159.5 L1259.4,158.5 L1259.4,157.5 L1259.4,156.5 L1259.3,155.5 L1259.3,154.5 L1259.3,153.5 L1259.3,152.5 L1259.3,151.5 L1259.3,150.5 L1259.3,149.5 L1259.3,148.5 L1259.3,147.5 L1259.2,146.5 L1259.2,145.5 L1259.2,144.5 L1259.2,143.5 L1259.2,142.5 L1259.1,141.5 L1259.1,140.5 L1259.1,139.5 L1259.1,138.5 L1259.0,137.5 L1259.0,136.5 L1259.0,135.5 L1259.0,134.5 L1258.9,133.5 L1258.9,132.5 L1258.9,131.5 L1258.9,130.5 L1258.8,129.5 L1258.8,128.5 L1258.8,127.5 L1258.7,126.5 L1258.7,125.5 L1258.7,124.5 L1258.7,123.5 L1258.6,122.5 L1258.6,121.5 L1258.6,120.5 L1258.6,119.5 L1258.5,118.5 L1258.5,117.5 L1258.5,116.5 L1258.5,115.5 L1258.4,114.5 L1258.4,113.5 L1258.4,112.5 L1258.4,111.5 L1258.3,110.5 L1258.3,109.5 L1258.3,108.5 L1258.2,107.5 L1258.2,106.5 L1258.2,105.5 L1258.2,104.5 L1258.1,103.5 L1258.1,102.5 L1258.1,101.5 L1258.0,100.5 L1258.0,99.5 L1257.9,98.5 L1257.9,97.5 L1257.8,96.5 L1257.8,95.5 L1257.7,94.5 L1257.7,93.5 L1257.6,92.5 L1257.6,91.5 L1257.5,90.5 L1257.4,89.5 L1257.4,88.5 L1257.3,87.5 L1257.3,86.5 L1257.2,85.5 L1257.1,84.5 L1257.1,83.5 L1257.0,82.5 L1256.9,81.5 L1256.9,80.5 L1256.8,79.5 L1256.8,78.5 L1256.7,77.5 L1256.6,76.5 L1256.6,75.5 L1256.5,74.5 L1256.4,73.5 L1256.3,72.5 L1256.2,71.5 L1256.1,70.5 L1255.9,69.5 L1255.7,68.5 L1255.5,67.5 L1255.2,66.5 L1254.9,65.5 L1254.5,64.5 L1254.1,63.5 L1253.8,62.5 L1253.3,61.5 L1252.9,60.5 L1252.4,59.5 L1252.0,58.5 L1251.4,57.5 L1250.9,56.5 L1250.3,55.5 L1249.7,54.5 L1249.1,53.5 L1248.5,52.5 L1247.8,51.5 L1247.1,50.5 L1246.5,49.5 L1245.8,48.5 L1245.2,47.5 L1244.6,46.5 L1244.0,45.5 L1243.4,44.5 L1242.9,43.5 L1242.5,42.5 L1242.3,41.5 L1242.1,40.5 L1242.1,39.5 L1242.3,38.5 L1242.6,37.5 L1242.9,36.5 L1243.1,35.5 L1243.3,34.5 L1243.4,33.5 L1243.3,32.5 L1243.0,31.5 L1242.5,30.5 L1241.8,29.5 L1241.0,28.5 L1240.0,27.5 L1238.9,26.5 L1237.8,25.5 L1236.7,24.5 L1235.8,23.5 L1235.0,22.5 L1234.3,21.5 L1233.8,20.5 L1233.4,19.5 Z" fill="#ffffff" stroke="#6e6e6e" stroke-width="3.2" stroke-linejoin="round"/>
<path d="M1374.8,19.5 L1375.0,20.5 L1375.3,21.5 L1375.6,22.5 L1375.9,23.5 L1376.2,24.5 L1376.5,25.5 L1376.8,26.5 L1377.1,27.5 L1377.4,28.5 L1377.6,29.5 L1377.8,30.5 L1377.9,31.5 L1378.1,32.5 L1378.2,33.5 L1378.2,34.5 L1378.3,35.5 L1378.2,36.5 L1378.2,37.5 L1378.0,38.5 L1377.7,39.5 L1377.4,40.5 L1376.9,41.5 L1376.4,42.5 L1375.9,43.5 L1375.3,44.5 L1374.7,45.5 L1374.1,46.5 L1373.4,47.5 L1372.7,48.5 L1372.0,49.5 L1371.3,50.5 L1370.6,51.5 L1369.9,52.5 L1369.2,53.5 L1368.6,54.5 L1367.9,55.5 L1367.3,56.5 L1366.7,57.5 L1366.2,58.5 L1365.6,59.5 L1365.2,60.5 L1364.7,61.5 L1364.3,62.5 L1363.9,63.5 L1363.5,64.5 L1363.1,65.5 L1362.8,66.5 L1362.5,67.5 L1362.2,68.5 L1361.9,69.5 L1361.7,70.5 L1361.5,71.5 L1361.3,72.5 L1361.1,73.5 L1360.9,74.5 L1360.8,75.5 L1360.7,76.5 L1360.6,77.5 L1360.6,78.5 L1360.5,79.5 L1360.5,80.5 L1360.4,81.5 L1360.4,82.5 L1360.3,83.5 L1360.3,84.5 L1360.3,85.5 L1360.2,86.5 L1360.2,87.5 L1360.2,88.5 L1360.1,89.5 L1360.1,90.5 L1360.0,91.5 L1360.0,92.5 L1360.0,93.5 L1359.9,94.5 L1359.9,95.5 L1359.9,96.5 L1359.8,97.5 L1359.8,98.5 L1359.8,99.5 L1359.7,100.5 L1359.7,101.5 L1359.7,102.5 L1359.6,103.5 L1359.6,104.5 L1359.6,105.5 L1359.5,106.5 L1359.5,107.5 L1359.5,108.5 L1359.5,109.5 L1359.4,110.5 L1359.4,111.5 L1359.4,112.5 L1359.3,113.5 L1359.3,114.5 L1359.3,115.5 L1359.3,116.5 L1359.2,117.5 L1359.2,118.5 L1359.2,119.5 L1359.1,120.5 L1359.1,121.5 L1359.1,122.5 L1359.1,123.5 L1359.0,124.5 L1359.0,125.5 L1359.0,126.5 L1358.9,127.5 L1358.9,128.5 L1358.9,129.5 L1358.9,130.5 L1358.8,131.5 L1358.8,132.5 L1358.8,133.5 L1358.7,134.5 L1358.7,135.5 L1358.7,136.5 L1358.7,137.5 L1358.6,138.5 L1358.6,139.5 L1358.6,140.5 L1358.6,141.5 L1358.5,142.5 L1358.5,143.5 L1358.5,144.5 L1358.5,145.5 L1358.4,146.5 L1358.4,147.5 L1358.4,148.5 L1358.4,149.5 L1358.3,150.5 L1358.3,151.5 L1358.3,152.5 L1358.3,153.5 L1358.3,154.5 L1358.2,155.5 L1358.2,156.5 L1358.2,157.5 L1358.2,158.5 L1358.1,159.5 L1358.1,160.5 L1358.1,161.5 L1358.1,162.5 L1358.1,163.5 L1358.0,164.5 L1358.0,165.5 L1358.0,166.5 L1358.0,167.5 L1358.0,168.5 L1357.9,169.5 L1357.9,170.5 L1357.9,171.5 L1357.9,172.5 L1357.9,173.5 L1357.8,174.5 L1357.8,175.5 L1357.8,176.5 L1357.8,177.5 L1357.8,178.5 L1357.7,179.5 L1357.7,180.5 L1357.7,181.5 L1357.7,182.5 L1357.7,183.5 L1357.7,184.5 L1357.6,185.5 L1357.6,186.5 L1357.6,187.5 L1357.6,188.5 L1357.6,189.5 L1357.5,190.5 L1357.5,191.5 L1357.5,192.5 L1357.5,193.5 L1357.5,194.5 L1357.5,195.5 L1357.4,196.5 L1357.4,197.5 L1357.4,198.5 L1357.4,199.5 L1357.4,200.5 L1357.4,201.5 L1357.4,202.5 L1357.3,203.5 L1357.3,204.5 L1357.3,205.5 L1357.3,206.5 L1357.3,207.5 L1357.3,208.5 L1357.3,209.5 L1357.3,210.5 L1357.2,211.5 L1357.2,212.5 L1357.2,213.5 L1357.2,214.5 L1357.2,215.5 L1357.2,216.5 L1357.2,217.5 L1357.2,218.5 L1357.2,219.5 L1357.1,220.5 L1357.1,221.5 L1357.1,222.5 L1357.1,223.5 L1357.1,224.5 L1357.1,225.5 L1357.1,226.5 L1357.1,227.5 L1357.1,228.5 L1357.1,229.5 L1357.0,230.5 L1357.0,231.5 L1357.0,232.5 L1357.0,233.5 L1357.0,234.5 L1357.0,235.5 L1357.0,236.5 L1357.0,237.5 L1357.0,238.5 L1357.0,239.5 L1357.0,240.5 L1356.9,241.5 L1356.9,242.5 L1356.9,243.5 L1356.9,244.5 L1356.9,245.5 L1356.9,246.5 L1356.9,247.5 L1356.9,248.5 L1356.9,249.5 L1356.9,250.5 L1356.9,251.5 L1356.9,252.5 L1356.8,253.5 L1356.8,254.5 L1356.8,255.5 L1356.8,256.5 L1356.8,257.5 L1356.8,258.5 L1356.8,259.5 L1356.8,260.5 L1356.8,261.5 L1356.8,262.5 L1356.8,263.5 L1356.8,264.5 L1356.8,265.5 L1356.8,266.5 L1356.7,267.5 L1356.7,268.5 L1356.7,269.5 L1356.7,270.5 L1356.7,271.5 L1356.7,272.5 L1356.7,273.5 L1356.7,274.5 L1356.7,275.5 L1356.7,276.5 L1356.7,277.5 L1356.7,278.5 L1356.7,279.5 L1356.7,280.5 L1356.7,281.5 L1356.7,282.5 L1356.7,283.5 L1356.6,284.5 L1356.6,285.5 L1356.6,286.5 L1356.6,287.5 L1356.6,288.5 L1356.6,289.5 L1356.6,290.5 L1356.6,291.5 L1356.6,292.5 L1356.6,293.5 L1356.6,294.5 L1356.6,295.5 L1356.6,296.5 L1356.6,297.5 L1356.6,298.5 L1356.6,299.5 L1356.6,300.5 L1356.6,301.5 L1356.6,302.5 L1356.6,303.5 L1356.6,304.5 L1356.6,305.5 L1356.6,306.5 L1356.6,307.5 L1356.6,308.5 L1356.5,309.5 L1356.5,310.5 L1356.5,311.5 L1356.5,312.5 L1356.5,313.5 L1356.5,314.5 L1356.5,315.5 L1356.5,316.5 L1356.5,317.5 L1356.5,318.5 L1356.5,319.5 L1356.5,320.5 L1356.5,321.5 L1356.5,322.5 L1356.5,323.5 L1356.5,324.5 L1356.5,325.5 L1356.5,326.5 L1356.5,327.5 L1356.5,328.5 L1356.5,329.5 L1356.5,330.5 L1356.5,331.5 L1356.5,332.5 L1356.5,333.5 L1356.5,334.5 L1356.5,335.5 L1356.5,336.5 L1356.5,337.5 L1356.5,338.5 L1356.5,339.5 L1356.5,340.5 L1356.5,341.5 L1356.5,342.5 L1356.5,343.5 L1356.4,344.5 L1356.4,345.5 L1356.4,346.5 L1356.4,347.5 L1356.4,348.5 L1356.4,349.5 L1356.4,350.5 L1356.4,351.5 L1356.4,352.5 L1356.4,353.5 L1356.4,354.5 L1356.4,355.5 L1356.4,356.5 L1356.4,357.5 L1356.4,358.5 L1356.4,359.5 L1356.4,360.5 L1356.4,361.5 L1356.4,362.5 L1356.4,363.5 L1356.4,364.5 L1356.4,365.5 L1356.4,366.5 L1356.4,367.5 L1356.4,368.5 L1356.4,369.5 L1356.4,370.5 L1356.4,371.5 L1356.4,372.5 L1356.4,373.5 L1356.4,374.5 L1356.4,375.5 L1356.4,376.5 L1356.4,377.5 L1356.4,378.5 L1356.4,379.5 L1356.4,380.5 L1356.4,381.5 L1356.4,382.5 L1356.4,383.5 L1356.4,384.5 L1356.4,385.5 L1356.4,386.5 L1356.4,387.5 L1356.4,388.5 L1356.4,389.5 L1356.3,390.5 L1356.3,391.5 L1356.3,392.5 L1356.3,393.5 L1356.3,394.5 L1356.3,395.5 L1356.3,396.5 L1356.3,397.5 L1356.3,398.5 L1356.3,399.5 L1356.3,400.5 L1356.3,401.5 L1356.3,402.5 L1356.3,403.5 L1356.3,404.5 L1356.3,405.5 L1356.3,406.5 L1356.3,407.5 L1356.3,408.5 L1356.3,409.5 L1356.3,410.5 L1356.3,411.5 L1356.3,412.5 L1356.3,413.5 L1356.3,414.5 L1356.3,415.5 L1356.3,416.5 L1356.3,417.5 L1356.3,418.5 L1356.3,419.5 L1356.3,420.5 L1356.3,421.5 L1356.3,422.5 L1356.3,423.5 L1356.3,424.5 L1356.3,425.5 L1356.3,426.5 L1356.3,427.5 L1356.3,428.5 L1356.3,429.5 L1356.3,430.5 L1356.3,431.5 L1356.3,432.5 L1356.3,433.5 L1356.3,434.5 L1356.3,435.5 L1356.3,436.5 L1356.3,437.5 L1356.3,438.5 L1356.3,439.5 L1356.3,440.5 L1356.3,441.5 L1356.3,442.5 L1356.3,443.5 L1356.3,444.5 L1356.3,445.5 L1356.3,446.5 L1356.3,447.3 L1355.9,447.3 L1355.9,446.5 L1355.9,445.5 L1355.9,444.5 L1355.9,443.5 L1355.9,442.5 L1355.9,441.5 L1355.9,440.5 L1355.9,439.5 L1355.9,438.5 L1355.9,437.5 L1355.9,436.5 L1355.9,435.5 L1355.9,434.5 L1355.9,433.5 L1355.9,432.5 L1355.9,431.5 L1355.9,430.5 L1355.9,429.5 L1355.9,428.5 L1355.9,427.5 L1355.9,426.5 L1355.9,425.5 L1355.9,424.5 L1355.9,423.5 L1355.9,422.5 L1355.9,421.5 L1355.9,420.5 L1355.9,419.5 L1355.9,418.5 L1355.9,417.5 L1355.9,416.5 L1355.9,415.5 L1355.9,414.5 L1355.9,413.5 L1355.9,412.5 L1355.9,411.5 L1355.9,410.5 L1355.9,409.5 L1355.9,408.5 L1355.9,407.5 L1355.9,406.5 L1355.9,405.5 L1355.9,404.5 L1355.9,403.5 L1355.9,402.5 L1355.9,401.5 L1355.9,400.5 L1355.9,399.5 L1355.9,398.5 L1355.9,397.5 L1355.9,396.5 L1355.9,395.5 L1355.9,394.5 L1355.9,393.5 L1355.9,392.5 L1355.9,391.5 L1355.9,390.5 L1355.8,389.5 L1355.8,388.5 L1355.8,387.5 L1355.8,386.5 L1355.8,385.5 L1355.8,384.5 L1355.8,383.5 L1355.8,382.5 L1355.8,381.5 L1355.8,380.5 L1355.8,379.5 L1355.8,378.5 L1355.8,377.5 L1355.8,376.5 L1355.8,375.5 L1355.8,374.5 L1355.8,373.5 L1355.8,372.5 L1355.8,371.5 L1355.8,370.5 L1355.8,369.5 L1355.8,368.5 L1355.8,367.5 L1355.8,366.5 L1355.8,365.5 L1355.8,364.5 L1355.8,363.5 L1355.8,362.5 L1355.8,361.5 L1355.8,360.5 L1355.8,359.5 L1355.8,358.5 L1355.8,357.5 L1355.8,356.5 L1355.8,355.5 L1355.8,354.5 L1355.8,353.5 L1355.8,352.5 L1355.8,351.5 L1355.8,350.5 L1355.8,349.5 L1355.8,348.5 L1355.8,347.5 L1355.8,346.5 L1355.8,345.5 L1355.8,344.5 L1355.7,343.5 L1355.7,342.5 L1355.7,341.5 L1355.7,340.5 L1355.7,339.5 L1355.7,338.5 L1355.7,337.5 L1355.7,336.5 L1355.7,335.5 L1355.7,334.5 L1355.7,333.5 L1355.7,332.5 L1355.7,331.5 L1355.7,330.5 L1355.7,329.5 L1355.7,328.5 L1355.7,327.5 L1355.7,326.5 L1355.7,325.5 L1355.7,324.5 L1355.7,323.5 L1355.7,322.5 L1355.7,321.5 L1355.7,320.5 L1355.7,319.5 L1355.7,318.5 L1355.7,317.5 L1355.7,316.5 L1355.7,315.5 L1355.7,314.5 L1355.7,313.5 L1355.7,312.5 L1355.7,311.5 L1355.7,310.5 L1355.7,309.5 L1355.6,308.5 L1355.6,307.5 L1355.6,306.5 L1355.6,305.5 L1355.6,304.5 L1355.6,303.5 L1355.6,302.5 L1355.6,301.5 L1355.6,300.5 L1355.6,299.5 L1355.6,298.5 L1355.6,297.5 L1355.6,296.5 L1355.6,295.5 L1355.6,294.5 L1355.6,293.5 L1355.6,292.5 L1355.6,291.5 L1355.6,290.5 L1355.6,289.5 L1355.6,288.5 L1355.6,287.5 L1355.6,286.5 L1355.6,285.5 L1355.6,284.5 L1355.5,283.5 L1355.5,282.5 L1355.5,281.5 L1355.5,280.5 L1355.5,279.5 L1355.5,278.5 L1355.5,277.5 L1355.5,276.5 L1355.5,275.5 L1355.5,274.5 L1355.5,273.5 L1355.5,272.5 L1355.5,271.5 L1355.5,270.5 L1355.5,269.5 L1355.5,268.5 L1355.5,267.5 L1355.4,266.5 L1355.4,265.5 L1355.4,264.5 L1355.4,263.5 L1355.4,262.5 L1355.4,261.5 L1355.4,260.5 L1355.4,259.5 L1355.4,258.5 L1355.4,257.5 L1355.4,256.5 L1355.4,255.5 L1355.4,254.5 L1355.4,253.5 L1355.3,252.5 L1355.3,251.5 L1355.3,250.5 L1355.3,249.5 L1355.3,248.5 L1355.3,247.5 L1355.3,246.5 L1355.3,245.5 L1355.3,244.5 L1355.3,243.5 L1355.3,242.5 L1355.3,241.5 L1355.2,240.5 L1355.2,239.5 L1355.2,238.5 L1355.2,237.5 L1355.2,236.5 L1355.2,235.5 L1355.2,234.5 L1355.2,233.5 L1355.2,232.5 L1355.2,231.5 L1355.2,230.5 L1355.1,229.5 L1355.1,228.5 L1355.1,227.5 L1355.1,226.5 L1355.1,225.5 L1355.1,224.5 L1355.1,223.5 L1355.1,222.5 L1355.1,221.5 L1355.1,220.5 L1355.0,219.5 L1355.0,218.5 L1355.0,217.5 L1355.0,216.5 L1355.0,215.5 L1355.0,214.5 L1355.0,213.5 L1355.0,212.5 L1355.0,211.5 L1354.9,210.5 L1354.9,209.5 L1354.9,208.5 L1354.9,207.5 L1354.9,206.5 L1354.9,205.5 L1354.9,204.5 L1354.9,203.5 L1354.8,202.5 L1354.8,201.5 L1354.8,200.5 L1354.8,199.5 L1354.8,198.5 L1354.8,197.5 L1354.8,196.5 L1354.7,195.5 L1354.7,194.5 L1354.7,193.5 L1354.7,192.5 L1354.7,191.5 L1354.7,190.5 L1354.6,189.5 L1354.6,188.5 L1354.6,187.5 L1354.6,186.5 L1354.6,185.5 L1354.5,184.5 L1354.5,183.5 L1354.5,182.5 L1354.5,181.5 L1354.5,180.5 L1354.5,179.5 L1354.4,178.5 L1354.4,177.5 L1354.4,176.5 L1354.4,175.5 L1354.4,174.5 L1354.3,173.5 L1354.3,172.5 L1354.3,171.5 L1354.3,170.5 L1354.3,169.5 L1354.2,168.5 L1354.2,167.5 L1354.2,166.5 L1354.2,165.5 L1354.2,164.5 L1354.1,163.5 L1354.1,162.5 L1354.1,161.5 L1354.1,160.5 L1354.1,159.5 L1354.0,158.5 L1354.0,157.5 L1354.0,156.5 L1354.0,155.5 L1353.9,154.5 L1353.9,153.5 L1353.9,152.5 L1353.9,151.5 L1353.9,150.5 L1353.8,149.5 L1353.8,148.5 L1353.8,147.5 L1353.8,146.5 L1353.7,145.5 L1353.7,144.5 L1353.7,143.5 L1353.7,142.5 L1353.6,141.5 L1353.6,140.5 L1353.6,139.5 L1353.6,138.5 L1353.5,137.5 L1353.5,136.5 L1353.5,135.5 L1353.5,134.5 L1353.4,133.5 L1353.4,132.5 L1353.4,131.5 L1353.3,130.5 L1353.3,129.5 L1353.3,128.5 L1353.3,127.5 L1353.2,126.5 L1353.2,125.5 L1353.2,124.5 L1353.1,123.5 L1353.1,122.5 L1353.1,121.5 L1353.1,120.5 L1353.0,119.5 L1353.0,118.5 L1353.0,117.5 L1352.9,116.5 L1352.9,115.5 L1352.9,114.5 L1352.9,113.5 L1352.8,112.5 L1352.8,111.5 L1352.8,110.5 L1352.7,109.5 L1352.7,108.5 L1352.7,107.5 L1352.7,106.5 L1352.6,105.5 L1352.6,104.5 L1352.6,103.5 L1352.5,102.5 L1352.5,101.5 L1352.5,100.5 L1352.4,99.5 L1352.4,98.5 L1352.4,97.5 L1352.3,96.5 L1352.3,95.5 L1352.3,94.5 L1352.2,93.5 L1352.2,92.5 L1352.2,91.5 L1352.1,90.5 L1352.1,89.5 L1352.0,88.5 L1352.0,87.5 L1352.0,86.5 L1351.9,85.5 L1351.9,84.5 L1351.9,83.5 L1351.8,82.5 L1351.8,81.5 L1351.7,80.5 L1351.7,79.5 L1351.6,78.5 L1351.6,77.5 L1351.5,76.5 L1351.4,75.5 L1351.3,74.5 L1351.1,73.5 L1350.9,72.5 L1350.7,71.5 L1350.5,70.5 L1350.3,69.5 L1350.0,68.5 L1349.7,67.5 L1349.4,66.5 L1349.1,65.5 L1348.7,64.5 L1348.3,63.5 L1347.9,62.5 L1347.5,61.5 L1347.0,60.5 L1346.6,59.5 L1346.0,58.5 L1345.5,57.5 L1344.9,56.5 L1344.3,55.5 L1343.6,54.5 L1343.0,53.5 L1342.3,52.5 L1341.6,51.5 L1340.9,50.5 L1340.2,49.5 L1339.5,48.5 L1338.8,47.5 L1338.1,46.5 L1337.5,45.5 L1336.9,44.5 L1336.3,43.5 L1335.8,42.5 L1335.3,41.5 L1334.8,40.5 L1334.5,39.5 L1334.2,38.5 L1334.0,37.5 L1334.0,36.5 L1333.9,35.5 L1334.0,34.5 L1334.0,33.5 L1334.1,32.5 L1334.3,31.5 L1334.4,30.5 L1334.6,29.5 L1334.8,28.5 L1335.1,27.5 L1335.4,26.5 L1335.7,25.5 L1336.0,24.5 L1336.3,23.5 L1336.6,22.5 L1336.9,21.5 L1337.2,20.5 L1337.4,19.5 Z" fill="#ffffff" stroke="#6e6e6e" stroke-width="3.2" stroke-linejoin="round"/>
<line x1="1110" y1="570.25" x2="1413" y2="570.25" stroke="#161616" stroke-width="3.7"/>
<text x="1096.3" y="31.8" font-size="34.3" text-anchor="end" font-weight="normal" fill="#000000" transform="translate(0 31.8) scale(1 0.975) translate(0 -31.8)">.00</text>
<path d="M1041.63,31.80 L1041.63,8.56 L1039.50,8.56 C1039.02,11.23 1037.37,13.14 1034.70,13.34 L1032.71,13.34 L1032.71,15.48 L1038.26,15.48 L1038.26,31.80 Z" fill="#000000"/>
<text x="1096.3" y="169.55" font-size="34.3" text-anchor="end" font-weight="normal" fill="#000000" transform="translate(0 169.55) scale(1 0.975) translate(0 -169.55)">0.75</text>
<text x="1096.3" y="307.3" font-size="34.3" text-anchor="end" font-weight="normal" fill="#000000" transform="translate(0 307.3) scale(1 0.975) translate(0 -307.3)">0.50</text>
<text x="1096.3" y="444.8" font-size="34.3" text-anchor="end" font-weight="normal" fill="#000000" transform="translate(0 444.8) scale(1 0.975) translate(0 -444.8)">0.25</text>
<text x="1096.3" y="582.55" font-size="34.3" text-anchor="end" font-weight="normal" fill="#000000" transform="translate(0 582.55) scale(1 0.975) translate(0 -582.55)">0.00</text>
<circle cx="1166.6" cy="65.0" r="7.8" fill="#d18b12"/>
<text x="1209.1" y="68.3" font-size="38" text-anchor="end" font-weight="normal" fill="#d18b12" transform="rotate(-90 1209.1 68.3)">a</text>
<circle cx="1261.3" cy="71.6" r="7.8" fill="#d18b12"/>
<text x="1303.8" y="73.6" font-size="38" text-anchor="end" font-weight="normal" fill="#d18b12" transform="rotate(-90 1303.8 73.6)">b</text>
<circle cx="1356.1" cy="82.3" r="7.8" fill="#d18b12"/>
<text x="1398.6" y="84.3" font-size="38" text-anchor="end" font-weight="normal" fill="#d18b12" transform="rotate(-90 1398.6 84.3)">c</text>
<text x="1191.6" y="592.0" font-size="34.3" text-anchor="end" font-weight="normal" fill="#000000" transform="rotate(-90 1191.6 592.0)">0 h</text>
<text x="1286.3" y="592.0" font-size="34.3" text-anchor="end" font-weight="normal" fill="#000000" transform="rotate(-90 1286.3 592.0)">24 h</text>
<text x="1381.1" y="592.0" font-size="34.3" text-anchor="end" font-weight="normal" fill="#000000" transform="rotate(-90 1381.1 592.0)">72 h</text>
<text x="1261.5" y="703.6" font-size="35.9" text-anchor="middle" font-weight="bold" fill="#000000">Stress duration</text>
<text x="1013.25" y="295.25" font-size="35.9" text-anchor="middle" font-weight="bold" fill="#000000" transform="rotate(-90 1013.25 295.25)">Solidity</text>
<text x="990.4" y="702.3" font-size="40" text-anchor="start" font-weight="normal" fill="#000000">c)</text>
</svg>
</body>
</html>
